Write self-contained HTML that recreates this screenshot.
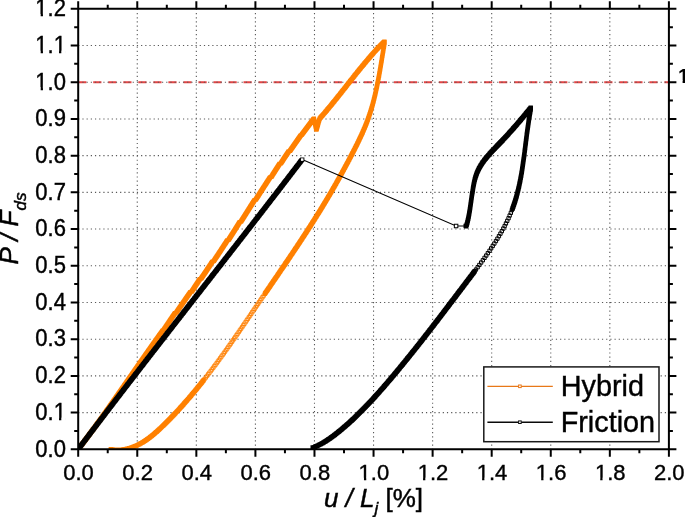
<!DOCTYPE html>
<html><head><meta charset="utf-8"><title>chart</title><style>html,body{margin:0;padding:0;background:#fff}body{width:685px;height:517px;overflow:hidden}</style></head><body>
<svg width="685" height="517" viewBox="0 0 685 517" style="display:block">
<rect width="685" height="517" fill="#fff"/>
<path d="M78.2 82.22H668.9" stroke="#E24444" stroke-width="2.1" stroke-dasharray="8.2 6.83" fill="none"/>
<path d="M137.27 8.8V449.3M196.34 8.8V449.3M255.41 8.8V449.3M314.48 8.8V449.3M373.55 8.8V449.3M432.62 8.8V449.3M491.69 8.8V449.3M550.76 8.8V449.3M609.83 8.8V449.3M78.2 412.59H668.9M78.2 375.88H668.9M78.2 339.18H668.9M78.2 302.47H668.9M78.2 265.76H668.9M78.2 229.05H668.9M78.2 192.34H668.9M78.2 155.63H668.9M78.2 118.93H668.9M78.2 82.22H668.9M78.2 45.51H668.9" fill="none" stroke="#585858" stroke-width="1.1" stroke-dasharray="1.2 2.99"/>
<clipPath id="pc"><rect x="78.2" y="8.8" width="590.6999999999999" height="440.8"/></clipPath><g clip-path="url(#pc)">
<path d="M76.1 447.2h4.2v4.2h-4.2zM76.4 446.8h4.2v4.2h-4.2zM76.7 446.4h4.2v4.2h-4.2zM77.0 446.0h4.2v4.2h-4.2zM77.3 445.6h4.2v4.2h-4.2zM77.6 445.2h4.2v4.2h-4.2zM77.9 444.8h4.2v4.2h-4.2zM78.2 444.4h4.2v4.2h-4.2zM78.5 444.0h4.2v4.2h-4.2zM78.8 443.6h4.2v4.2h-4.2zM79.1 443.2h4.2v4.2h-4.2zM79.4 442.8h4.2v4.2h-4.2zM79.7 442.4h4.2v4.2h-4.2zM80.0 442.0h4.2v4.2h-4.2zM80.3 441.6h4.2v4.2h-4.2zM80.7 441.2h4.2v4.2h-4.2zM81.0 440.8h4.2v4.2h-4.2zM81.3 440.4h4.2v4.2h-4.2zM81.6 440.0h4.2v4.2h-4.2zM81.9 439.6h4.2v4.2h-4.2zM82.2 439.2h4.2v4.2h-4.2zM82.5 438.8h4.2v4.2h-4.2zM82.8 438.4h4.2v4.2h-4.2zM83.1 438.0h4.2v4.2h-4.2zM83.4 437.6h4.2v4.2h-4.2zM83.7 437.2h4.2v4.2h-4.2zM84.0 436.8h4.2v4.2h-4.2zM84.3 436.4h4.2v4.2h-4.2zM84.6 436.0h4.2v4.2h-4.2zM84.9 435.6h4.2v4.2h-4.2zM85.2 435.2h4.2v4.2h-4.2zM85.5 434.8h4.2v4.2h-4.2zM85.8 434.4h4.2v4.2h-4.2zM86.1 434.0h4.2v4.2h-4.2zM86.4 433.6h4.2v4.2h-4.2zM86.7 433.2h4.2v4.2h-4.2zM86.9 432.8h4.2v4.2h-4.2zM87.2 432.4h4.2v4.2h-4.2zM87.5 432.0h4.2v4.2h-4.2zM87.8 431.6h4.2v4.2h-4.2zM88.1 431.2h4.2v4.2h-4.2zM88.4 430.8h4.2v4.2h-4.2zM88.7 430.4h4.2v4.2h-4.2zM89.0 430.0h4.2v4.2h-4.2zM89.3 429.6h4.2v4.2h-4.2zM89.6 429.2h4.2v4.2h-4.2zM89.9 428.8h4.2v4.2h-4.2zM90.2 428.4h4.2v4.2h-4.2zM90.5 428.0h4.2v4.2h-4.2zM90.8 427.6h4.2v4.2h-4.2zM91.1 427.2h4.2v4.2h-4.2zM91.4 426.8h4.2v4.2h-4.2zM91.7 426.4h4.2v4.2h-4.2zM92.0 426.0h4.2v4.2h-4.2zM92.3 425.6h4.2v4.2h-4.2zM92.6 425.2h4.2v4.2h-4.2zM92.9 424.8h4.2v4.2h-4.2zM93.2 424.4h4.2v4.2h-4.2zM93.5 424.0h4.2v4.2h-4.2zM93.8 423.6h4.2v4.2h-4.2zM94.0 423.2h4.2v4.2h-4.2zM94.3 422.7h4.2v4.2h-4.2zM94.6 422.3h4.2v4.2h-4.2zM94.9 421.9h4.2v4.2h-4.2zM95.2 421.5h4.2v4.2h-4.2zM95.5 421.1h4.2v4.2h-4.2zM95.8 420.7h4.2v4.2h-4.2zM96.1 420.3h4.2v4.2h-4.2zM96.4 419.9h4.2v4.2h-4.2zM96.7 419.5h4.2v4.2h-4.2zM97.0 419.1h4.2v4.2h-4.2zM97.3 418.7h4.2v4.2h-4.2zM97.6 418.3h4.2v4.2h-4.2zM97.9 417.9h4.2v4.2h-4.2zM98.2 417.5h4.2v4.2h-4.2zM98.4 417.1h4.2v4.2h-4.2zM98.7 416.7h4.2v4.2h-4.2zM99.0 416.3h4.2v4.2h-4.2zM99.3 415.9h4.2v4.2h-4.2zM99.6 415.4h4.2v4.2h-4.2zM99.9 415.0h4.2v4.2h-4.2zM100.2 414.6h4.2v4.2h-4.2zM100.5 414.2h4.2v4.2h-4.2zM100.8 413.8h4.2v4.2h-4.2zM101.1 413.4h4.2v4.2h-4.2zM101.4 413.0h4.2v4.2h-4.2zM101.6 412.6h4.2v4.2h-4.2zM101.9 412.2h4.2v4.2h-4.2zM102.2 411.8h4.2v4.2h-4.2zM102.5 411.4h4.2v4.2h-4.2zM102.8 411.0h4.2v4.2h-4.2zM103.1 410.6h4.2v4.2h-4.2zM103.4 410.2h4.2v4.2h-4.2zM103.7 409.7h4.2v4.2h-4.2zM104.0 409.3h4.2v4.2h-4.2zM104.3 408.9h4.2v4.2h-4.2zM104.5 408.5h4.2v4.2h-4.2zM104.8 408.1h4.2v4.2h-4.2zM105.1 407.7h4.2v4.2h-4.2zM105.4 407.3h4.2v4.2h-4.2zM105.7 406.9h4.2v4.2h-4.2zM106.0 406.5h4.2v4.2h-4.2zM106.3 406.1h4.2v4.2h-4.2zM106.6 405.7h4.2v4.2h-4.2zM106.9 405.3h4.2v4.2h-4.2zM107.1 404.9h4.2v4.2h-4.2zM107.4 404.4h4.2v4.2h-4.2zM107.7 404.0h4.2v4.2h-4.2zM108.0 403.6h4.2v4.2h-4.2zM108.3 403.2h4.2v4.2h-4.2zM108.6 402.8h4.2v4.2h-4.2zM108.9 402.4h4.2v4.2h-4.2zM109.2 402.0h4.2v4.2h-4.2zM109.4 401.6h4.2v4.2h-4.2zM109.7 401.2h4.2v4.2h-4.2zM110.0 400.8h4.2v4.2h-4.2zM110.3 400.4h4.2v4.2h-4.2zM110.6 399.9h4.2v4.2h-4.2zM110.9 399.5h4.2v4.2h-4.2zM111.2 399.1h4.2v4.2h-4.2zM111.5 398.7h4.2v4.2h-4.2zM111.7 398.3h4.2v4.2h-4.2zM112.0 397.9h4.2v4.2h-4.2zM112.3 397.5h4.2v4.2h-4.2zM112.6 397.1h4.2v4.2h-4.2zM112.9 396.7h4.2v4.2h-4.2zM113.2 396.3h4.2v4.2h-4.2zM113.5 395.8h4.2v4.2h-4.2zM113.8 395.4h4.2v4.2h-4.2zM114.0 395.0h4.2v4.2h-4.2zM114.3 394.6h4.2v4.2h-4.2zM114.6 394.2h4.2v4.2h-4.2zM114.9 393.8h4.2v4.2h-4.2zM115.2 393.4h4.2v4.2h-4.2zM115.5 393.0h4.2v4.2h-4.2zM115.8 392.6h4.2v4.2h-4.2zM116.0 392.2h4.2v4.2h-4.2zM116.3 391.7h4.2v4.2h-4.2zM116.6 391.3h4.2v4.2h-4.2zM116.9 390.9h4.2v4.2h-4.2zM117.2 390.5h4.2v4.2h-4.2zM117.5 390.1h4.2v4.2h-4.2zM117.8 389.7h4.2v4.2h-4.2zM118.0 389.3h4.2v4.2h-4.2zM118.3 388.9h4.2v4.2h-4.2zM118.6 388.5h4.2v4.2h-4.2zM118.9 388.1h4.2v4.2h-4.2zM119.2 387.6h4.2v4.2h-4.2zM119.5 387.2h4.2v4.2h-4.2zM119.8 386.8h4.2v4.2h-4.2zM120.0 386.4h4.2v4.2h-4.2zM120.3 386.0h4.2v4.2h-4.2zM120.6 385.6h4.2v4.2h-4.2zM120.9 385.2h4.2v4.2h-4.2zM121.2 384.8h4.2v4.2h-4.2zM121.5 384.4h4.2v4.2h-4.2zM121.8 383.9h4.2v4.2h-4.2zM122.0 383.5h4.2v4.2h-4.2zM122.3 383.1h4.2v4.2h-4.2zM122.6 382.7h4.2v4.2h-4.2zM122.9 382.3h4.2v4.2h-4.2zM123.2 381.9h4.2v4.2h-4.2zM123.5 381.5h4.2v4.2h-4.2zM123.8 381.1h4.2v4.2h-4.2zM124.0 380.7h4.2v4.2h-4.2zM124.3 380.3h4.2v4.2h-4.2zM124.6 379.8h4.2v4.2h-4.2zM124.9 379.4h4.2v4.2h-4.2zM125.2 379.0h4.2v4.2h-4.2zM125.5 378.6h4.2v4.2h-4.2zM125.8 378.2h4.2v4.2h-4.2zM126.0 377.8h4.2v4.2h-4.2zM126.3 377.4h4.2v4.2h-4.2zM126.6 377.0h4.2v4.2h-4.2zM126.9 376.6h4.2v4.2h-4.2zM127.2 376.1h4.2v4.2h-4.2zM127.5 375.7h4.2v4.2h-4.2zM127.7 375.3h4.2v4.2h-4.2zM128.0 374.9h4.2v4.2h-4.2zM128.3 374.5h4.2v4.2h-4.2zM128.6 374.1h4.2v4.2h-4.2zM128.9 373.7h4.2v4.2h-4.2zM129.2 373.3h4.2v4.2h-4.2zM129.5 372.9h4.2v4.2h-4.2zM129.7 372.4h4.2v4.2h-4.2zM130.0 372.0h4.2v4.2h-4.2zM130.3 371.6h4.2v4.2h-4.2zM130.6 371.2h4.2v4.2h-4.2zM130.9 370.8h4.2v4.2h-4.2zM131.2 370.4h4.2v4.2h-4.2zM131.5 370.0h4.2v4.2h-4.2zM131.7 369.6h4.2v4.2h-4.2zM132.0 369.2h4.2v4.2h-4.2zM132.3 368.7h4.2v4.2h-4.2zM132.6 368.3h4.2v4.2h-4.2zM132.9 367.9h4.2v4.2h-4.2zM133.2 367.5h4.2v4.2h-4.2zM133.4 367.1h4.2v4.2h-4.2zM133.7 366.7h4.2v4.2h-4.2zM134.0 366.3h4.2v4.2h-4.2zM134.3 365.9h4.2v4.2h-4.2zM134.6 365.5h4.2v4.2h-4.2zM134.9 365.0h4.2v4.2h-4.2zM135.2 364.6h4.2v4.2h-4.2zM135.4 364.2h4.2v4.2h-4.2zM135.7 363.8h4.2v4.2h-4.2zM136.0 363.4h4.2v4.2h-4.2zM136.3 363.0h4.2v4.2h-4.2zM136.6 362.6h4.2v4.2h-4.2zM136.9 362.2h4.2v4.2h-4.2zM137.2 361.8h4.2v4.2h-4.2zM137.4 361.3h4.2v4.2h-4.2zM137.7 360.9h4.2v4.2h-4.2zM138.0 360.5h4.2v4.2h-4.2zM138.3 360.1h4.2v4.2h-4.2zM138.6 359.7h4.2v4.2h-4.2zM138.9 359.3h4.2v4.2h-4.2zM139.2 358.9h4.2v4.2h-4.2zM139.4 358.5h4.2v4.2h-4.2zM139.7 358.1h4.2v4.2h-4.2zM140.0 357.7h4.2v4.2h-4.2zM140.3 357.2h4.2v4.2h-4.2zM140.6 356.8h4.2v4.2h-4.2zM140.9 356.4h4.2v4.2h-4.2zM141.2 356.0h4.2v4.2h-4.2zM141.4 355.6h4.2v4.2h-4.2zM141.7 355.2h4.2v4.2h-4.2zM142.0 354.8h4.2v4.2h-4.2zM142.3 354.4h4.2v4.2h-4.2zM142.6 354.0h4.2v4.2h-4.2zM142.9 353.6h4.2v4.2h-4.2zM143.2 353.1h4.2v4.2h-4.2zM143.4 352.7h4.2v4.2h-4.2zM143.7 352.3h4.2v4.2h-4.2zM144.0 351.9h4.2v4.2h-4.2zM144.3 351.5h4.2v4.2h-4.2zM144.6 351.1h4.2v4.2h-4.2zM144.9 350.7h4.2v4.2h-4.2zM145.2 350.3h4.2v4.2h-4.2zM145.5 349.9h4.2v4.2h-4.2zM145.7 349.5h4.2v4.2h-4.2zM146.0 349.0h4.2v4.2h-4.2zM146.3 348.6h4.2v4.2h-4.2zM146.6 348.2h4.2v4.2h-4.2zM146.9 347.8h4.2v4.2h-4.2zM147.2 347.4h4.2v4.2h-4.2zM147.5 347.0h4.2v4.2h-4.2zM147.8 346.6h4.2v4.2h-4.2zM148.0 346.2h4.2v4.2h-4.2zM148.3 345.8h4.2v4.2h-4.2zM148.6 345.4h4.2v4.2h-4.2zM148.9 345.0h4.2v4.2h-4.2zM149.2 344.5h4.2v4.2h-4.2zM149.5 344.1h4.2v4.2h-4.2zM149.8 343.7h4.2v4.2h-4.2zM150.1 343.3h4.2v4.2h-4.2zM150.4 342.9h4.2v4.2h-4.2zM150.6 342.5h4.2v4.2h-4.2zM150.9 342.1h4.2v4.2h-4.2zM151.2 341.7h4.2v4.2h-4.2zM151.5 341.3h4.2v4.2h-4.2zM151.8 340.9h4.2v4.2h-4.2zM152.1 340.5h4.2v4.2h-4.2zM152.4 340.1h4.2v4.2h-4.2zM152.7 339.7h4.2v4.2h-4.2zM153.0 339.2h4.2v4.2h-4.2zM153.2 338.8h4.2v4.2h-4.2zM153.5 338.4h4.2v4.2h-4.2zM153.8 338.0h4.2v4.2h-4.2zM154.1 337.6h4.2v4.2h-4.2zM154.4 337.2h4.2v4.2h-4.2zM154.7 336.8h4.2v4.2h-4.2zM155.0 336.4h4.2v4.2h-4.2zM155.3 336.0h4.2v4.2h-4.2zM155.6 335.6h4.2v4.2h-4.2zM155.9 335.2h4.2v4.2h-4.2zM156.1 334.8h4.2v4.2h-4.2zM156.4 334.4h4.2v4.2h-4.2zM156.7 333.9h4.2v4.2h-4.2zM157.0 333.5h4.2v4.2h-4.2zM157.3 333.1h4.2v4.2h-4.2zM157.6 332.7h4.2v4.2h-4.2zM157.9 332.3h4.2v4.2h-4.2zM158.2 331.9h4.2v4.2h-4.2zM158.5 331.5h4.2v4.2h-4.2zM158.8 331.1h4.2v4.2h-4.2zM159.1 330.7h4.2v4.2h-4.2zM159.4 330.3h4.2v4.2h-4.2zM159.6 329.9h4.2v4.2h-4.2zM159.9 329.5h4.2v4.2h-4.2zM160.2 329.1h4.2v4.2h-4.2zM160.5 328.7h4.2v4.2h-4.2zM160.8 328.3h4.2v4.2h-4.2zM161.6 327.9h4.2v4.2h-4.2zM161.8 327.5h4.2v4.2h-4.2zM162.1 327.0h4.2v4.2h-4.2zM162.4 326.6h4.2v4.2h-4.2zM162.6 326.2h4.2v4.2h-4.2zM162.9 325.8h4.2v4.2h-4.2zM163.2 325.4h4.2v4.2h-4.2zM163.5 325.0h4.2v4.2h-4.2zM163.7 324.6h4.2v4.2h-4.2zM164.0 324.2h4.2v4.2h-4.2zM164.3 323.8h4.2v4.2h-4.2zM164.5 323.4h4.2v4.2h-4.2zM164.8 323.0h4.2v4.2h-4.2zM165.1 322.6h4.2v4.2h-4.2zM165.4 322.2h4.2v4.2h-4.2zM165.6 321.8h4.2v4.2h-4.2zM165.9 321.4h4.2v4.2h-4.2zM166.2 321.0h4.2v4.2h-4.2zM166.4 320.6h4.2v4.2h-4.2zM166.7 320.2h4.2v4.2h-4.2zM167.0 319.8h4.2v4.2h-4.2zM167.3 319.4h4.2v4.2h-4.2zM167.5 318.9h4.2v4.2h-4.2zM167.8 318.5h4.2v4.2h-4.2zM168.1 318.1h4.2v4.2h-4.2zM168.4 317.7h4.2v4.2h-4.2zM168.6 317.3h4.2v4.2h-4.2zM168.9 316.9h4.2v4.2h-4.2zM169.2 316.5h4.2v4.2h-4.2zM169.5 316.1h4.2v4.2h-4.2zM169.7 315.7h4.2v4.2h-4.2zM170.0 315.3h4.2v4.2h-4.2zM170.3 314.9h4.2v4.2h-4.2zM170.5 314.5h4.2v4.2h-4.2zM170.8 314.1h4.2v4.2h-4.2zM171.1 313.7h4.2v4.2h-4.2zM171.4 313.3h4.2v4.2h-4.2zM171.6 312.9h4.2v4.2h-4.2zM171.9 312.5h4.2v4.2h-4.2zM172.2 312.1h4.2v4.2h-4.2zM172.5 311.7h4.2v4.2h-4.2zM172.7 311.3h4.2v4.2h-4.2zM173.0 310.9h4.2v4.2h-4.2zM174.2 310.5h4.2v4.2h-4.2zM174.5 310.1h4.2v4.2h-4.2zM174.7 309.7h4.2v4.2h-4.2zM175.0 309.3h4.2v4.2h-4.2zM175.3 308.8h4.2v4.2h-4.2zM175.6 308.4h4.2v4.2h-4.2zM175.9 308.0h4.2v4.2h-4.2zM176.1 307.6h4.2v4.2h-4.2zM176.4 307.2h4.2v4.2h-4.2zM176.7 306.8h4.2v4.2h-4.2zM177.0 306.4h4.2v4.2h-4.2zM177.2 306.0h4.2v4.2h-4.2zM177.5 305.6h4.2v4.2h-4.2zM177.8 305.2h4.2v4.2h-4.2zM178.1 304.8h4.2v4.2h-4.2zM178.4 304.4h4.2v4.2h-4.2zM178.6 304.0h4.2v4.2h-4.2zM178.9 303.6h4.2v4.2h-4.2zM179.2 303.2h4.2v4.2h-4.2zM179.5 302.8h4.2v4.2h-4.2zM179.8 302.4h4.2v4.2h-4.2zM180.0 302.0h4.2v4.2h-4.2zM180.3 301.6h4.2v4.2h-4.2zM180.6 301.2h4.2v4.2h-4.2zM180.9 300.8h4.2v4.2h-4.2zM181.1 300.4h4.2v4.2h-4.2zM181.4 300.0h4.2v4.2h-4.2zM181.7 299.6h4.2v4.2h-4.2zM182.0 299.2h4.2v4.2h-4.2zM182.3 298.8h4.2v4.2h-4.2zM182.5 298.4h4.2v4.2h-4.2zM182.8 298.0h4.2v4.2h-4.2zM183.1 297.6h4.2v4.2h-4.2zM183.4 297.1h4.2v4.2h-4.2zM183.7 296.7h4.2v4.2h-4.2zM183.9 296.3h4.2v4.2h-4.2zM184.2 295.9h4.2v4.2h-4.2zM184.5 295.5h4.2v4.2h-4.2zM184.8 295.1h4.2v4.2h-4.2zM185.0 294.7h4.2v4.2h-4.2zM185.3 294.3h4.2v4.2h-4.2zM185.6 293.9h4.2v4.2h-4.2zM185.9 293.5h4.2v4.2h-4.2zM186.2 293.1h4.2v4.2h-4.2zM186.4 292.7h4.2v4.2h-4.2zM186.7 292.3h4.2v4.2h-4.2zM187.0 291.9h4.2v4.2h-4.2zM187.3 291.5h4.2v4.2h-4.2zM187.6 291.1h4.2v4.2h-4.2zM187.8 290.7h4.2v4.2h-4.2zM188.1 290.3h4.2v4.2h-4.2zM188.4 289.9h4.2v4.2h-4.2zM189.6 289.5h4.2v4.2h-4.2zM189.8 289.1h4.2v4.2h-4.2zM190.1 288.7h4.2v4.2h-4.2zM190.4 288.3h4.2v4.2h-4.2zM190.6 287.9h4.2v4.2h-4.2zM190.9 287.5h4.2v4.2h-4.2zM191.2 287.1h4.2v4.2h-4.2zM191.4 286.7h4.2v4.2h-4.2zM191.7 286.3h4.2v4.2h-4.2zM192.0 285.8h4.2v4.2h-4.2zM192.2 285.4h4.2v4.2h-4.2zM192.5 285.0h4.2v4.2h-4.2zM192.8 284.6h4.2v4.2h-4.2zM193.0 284.2h4.2v4.2h-4.2zM193.3 283.8h4.2v4.2h-4.2zM193.6 283.4h4.2v4.2h-4.2zM193.8 283.0h4.2v4.2h-4.2zM194.1 282.6h4.2v4.2h-4.2zM194.4 282.2h4.2v4.2h-4.2zM194.6 281.8h4.2v4.2h-4.2zM194.9 281.4h4.2v4.2h-4.2zM195.2 281.0h4.2v4.2h-4.2zM195.4 280.6h4.2v4.2h-4.2zM195.7 280.2h4.2v4.2h-4.2zM196.0 279.8h4.2v4.2h-4.2zM196.2 279.4h4.2v4.2h-4.2zM196.5 279.0h4.2v4.2h-4.2zM196.7 278.6h4.2v4.2h-4.2zM197.0 278.2h4.2v4.2h-4.2zM197.3 277.8h4.2v4.2h-4.2zM197.5 277.4h4.2v4.2h-4.2zM197.8 277.0h4.2v4.2h-4.2zM199.0 276.6h4.2v4.2h-4.2zM199.3 276.1h4.2v4.2h-4.2zM199.5 275.7h4.2v4.2h-4.2zM199.8 275.3h4.2v4.2h-4.2zM200.1 274.9h4.2v4.2h-4.2zM200.3 274.5h4.2v4.2h-4.2zM200.6 274.1h4.2v4.2h-4.2zM200.9 273.7h4.2v4.2h-4.2zM201.2 273.3h4.2v4.2h-4.2zM201.4 272.9h4.2v4.2h-4.2zM201.7 272.5h4.2v4.2h-4.2zM202.0 272.1h4.2v4.2h-4.2zM202.3 271.7h4.2v4.2h-4.2zM202.5 271.3h4.2v4.2h-4.2zM202.8 270.9h4.2v4.2h-4.2zM203.1 270.5h4.2v4.2h-4.2zM203.3 270.1h4.2v4.2h-4.2zM203.6 269.7h4.2v4.2h-4.2zM203.9 269.3h4.2v4.2h-4.2zM204.2 268.9h4.2v4.2h-4.2zM204.4 268.4h4.2v4.2h-4.2zM204.7 268.0h4.2v4.2h-4.2zM205.0 267.6h4.2v4.2h-4.2zM205.2 267.2h4.2v4.2h-4.2zM205.5 266.8h4.2v4.2h-4.2zM205.8 266.4h4.2v4.2h-4.2zM206.1 266.0h4.2v4.2h-4.2zM206.3 265.6h4.2v4.2h-4.2zM206.6 265.2h4.2v4.2h-4.2zM206.9 264.8h4.2v4.2h-4.2zM207.1 264.4h4.2v4.2h-4.2zM207.4 264.0h4.2v4.2h-4.2zM207.7 263.6h4.2v4.2h-4.2zM207.9 263.2h4.2v4.2h-4.2zM208.2 262.8h4.2v4.2h-4.2zM208.5 262.4h4.2v4.2h-4.2zM208.8 261.9h4.2v4.2h-4.2zM209.0 261.5h4.2v4.2h-4.2zM209.3 261.1h4.2v4.2h-4.2zM209.6 260.7h4.2v4.2h-4.2zM209.8 260.3h4.2v4.2h-4.2zM210.1 259.9h4.2v4.2h-4.2zM210.4 259.5h4.2v4.2h-4.2zM211.5 259.1h4.2v4.2h-4.2zM211.8 258.7h4.2v4.2h-4.2zM212.1 258.3h4.2v4.2h-4.2zM212.4 257.9h4.2v4.2h-4.2zM212.6 257.5h4.2v4.2h-4.2zM212.9 257.1h4.2v4.2h-4.2zM213.2 256.6h4.2v4.2h-4.2zM213.4 256.2h4.2v4.2h-4.2zM213.7 255.8h4.2v4.2h-4.2zM214.0 255.4h4.2v4.2h-4.2zM214.3 255.0h4.2v4.2h-4.2zM214.5 254.6h4.2v4.2h-4.2zM214.8 254.2h4.2v4.2h-4.2zM215.1 253.8h4.2v4.2h-4.2zM215.4 253.4h4.2v4.2h-4.2zM215.6 253.0h4.2v4.2h-4.2zM215.9 252.6h4.2v4.2h-4.2zM216.2 252.2h4.2v4.2h-4.2zM216.4 251.7h4.2v4.2h-4.2zM216.7 251.3h4.2v4.2h-4.2zM217.0 250.9h4.2v4.2h-4.2zM217.2 250.5h4.2v4.2h-4.2zM217.5 250.1h4.2v4.2h-4.2zM217.8 249.7h4.2v4.2h-4.2zM218.1 249.3h4.2v4.2h-4.2zM218.3 248.9h4.2v4.2h-4.2zM218.6 248.5h4.2v4.2h-4.2zM218.9 248.1h4.2v4.2h-4.2zM219.1 247.6h4.2v4.2h-4.2zM219.4 247.2h4.2v4.2h-4.2zM219.7 246.8h4.2v4.2h-4.2zM219.9 246.4h4.2v4.2h-4.2zM220.2 246.0h4.2v4.2h-4.2zM220.5 245.6h4.2v4.2h-4.2zM220.7 245.2h4.2v4.2h-4.2zM221.0 244.8h4.2v4.2h-4.2zM221.3 244.4h4.2v4.2h-4.2zM221.5 244.0h4.2v4.2h-4.2zM221.8 243.5h4.2v4.2h-4.2zM222.1 243.1h4.2v4.2h-4.2zM222.3 242.7h4.2v4.2h-4.2zM222.6 242.3h4.2v4.2h-4.2zM222.9 241.9h4.2v4.2h-4.2zM223.2 241.5h4.2v4.2h-4.2zM223.4 241.1h4.2v4.2h-4.2zM223.7 240.7h4.2v4.2h-4.2zM224.0 240.3h4.2v4.2h-4.2zM224.2 239.8h4.2v4.2h-4.2zM224.5 239.4h4.2v4.2h-4.2zM224.7 239.0h4.2v4.2h-4.2zM225.0 238.6h4.2v4.2h-4.2zM225.3 238.2h4.2v4.2h-4.2zM226.4 237.8h4.2v4.2h-4.2zM226.7 237.4h4.2v4.2h-4.2zM227.0 237.0h4.2v4.2h-4.2zM227.2 236.5h4.2v4.2h-4.2zM227.5 236.1h4.2v4.2h-4.2zM227.8 235.7h4.2v4.2h-4.2zM228.0 235.3h4.2v4.2h-4.2zM228.3 234.9h4.2v4.2h-4.2zM228.5 234.5h4.2v4.2h-4.2zM228.8 234.1h4.2v4.2h-4.2zM229.1 233.6h4.2v4.2h-4.2zM229.3 233.2h4.2v4.2h-4.2zM229.6 232.8h4.2v4.2h-4.2zM229.8 232.4h4.2v4.2h-4.2zM230.1 232.0h4.2v4.2h-4.2zM230.4 231.6h4.2v4.2h-4.2zM230.6 231.2h4.2v4.2h-4.2zM230.9 230.8h4.2v4.2h-4.2zM231.2 230.3h4.2v4.2h-4.2zM231.4 229.9h4.2v4.2h-4.2zM231.7 229.5h4.2v4.2h-4.2zM231.9 229.1h4.2v4.2h-4.2zM232.2 228.7h4.2v4.2h-4.2zM232.5 228.3h4.2v4.2h-4.2zM232.7 227.9h4.2v4.2h-4.2zM233.0 227.4h4.2v4.2h-4.2zM233.2 227.0h4.2v4.2h-4.2zM233.5 226.6h4.2v4.2h-4.2zM233.8 226.2h4.2v4.2h-4.2zM234.0 225.8h4.2v4.2h-4.2zM234.3 225.4h4.2v4.2h-4.2zM234.5 225.0h4.2v4.2h-4.2zM234.8 224.5h4.2v4.2h-4.2zM235.1 224.1h4.2v4.2h-4.2zM235.3 223.7h4.2v4.2h-4.2zM235.6 223.3h4.2v4.2h-4.2zM235.8 222.9h4.2v4.2h-4.2zM236.1 222.5h4.2v4.2h-4.2zM236.3 222.1h4.2v4.2h-4.2zM236.6 221.6h4.2v4.2h-4.2zM236.9 221.2h4.2v4.2h-4.2zM237.1 220.8h4.2v4.2h-4.2zM237.4 220.4h4.2v4.2h-4.2zM237.6 220.0h4.2v4.2h-4.2zM238.8 219.6h4.2v4.2h-4.2zM239.1 219.2h4.2v4.2h-4.2zM239.3 218.7h4.2v4.2h-4.2zM239.6 218.3h4.2v4.2h-4.2zM239.9 217.9h4.2v4.2h-4.2zM240.1 217.5h4.2v4.2h-4.2zM240.4 217.1h4.2v4.2h-4.2zM240.6 216.7h4.2v4.2h-4.2zM240.9 216.3h4.2v4.2h-4.2zM241.2 215.8h4.2v4.2h-4.2zM241.4 215.4h4.2v4.2h-4.2zM241.7 215.0h4.2v4.2h-4.2zM242.0 214.6h4.2v4.2h-4.2zM242.2 214.2h4.2v4.2h-4.2zM242.5 213.8h4.2v4.2h-4.2zM242.7 213.4h4.2v4.2h-4.2zM243.0 212.9h4.2v4.2h-4.2zM243.3 212.5h4.2v4.2h-4.2zM243.5 212.1h4.2v4.2h-4.2zM243.8 211.7h4.2v4.2h-4.2zM244.1 211.3h4.2v4.2h-4.2zM244.3 210.9h4.2v4.2h-4.2zM244.6 210.4h4.2v4.2h-4.2zM244.8 210.0h4.2v4.2h-4.2zM245.1 209.6h4.2v4.2h-4.2zM245.4 209.2h4.2v4.2h-4.2zM245.6 208.8h4.2v4.2h-4.2zM245.9 208.4h4.2v4.2h-4.2zM246.2 208.0h4.2v4.2h-4.2zM246.4 207.5h4.2v4.2h-4.2zM246.7 207.1h4.2v4.2h-4.2zM246.9 206.7h4.2v4.2h-4.2zM247.2 206.3h4.2v4.2h-4.2zM247.5 205.9h4.2v4.2h-4.2zM247.7 205.5h4.2v4.2h-4.2zM248.0 205.1h4.2v4.2h-4.2zM248.2 204.6h4.2v4.2h-4.2zM248.5 204.2h4.2v4.2h-4.2zM248.8 203.8h4.2v4.2h-4.2zM249.0 203.4h4.2v4.2h-4.2zM249.3 203.0h4.2v4.2h-4.2zM249.6 202.6h4.2v4.2h-4.2zM249.8 202.2h4.2v4.2h-4.2zM250.1 201.7h4.2v4.2h-4.2zM250.3 201.3h4.2v4.2h-4.2zM250.6 200.9h4.2v4.2h-4.2zM250.9 200.5h4.2v4.2h-4.2zM251.1 200.1h4.2v4.2h-4.2zM251.4 199.7h4.2v4.2h-4.2zM251.7 199.2h4.2v4.2h-4.2zM251.9 198.8h4.2v4.2h-4.2zM252.2 198.4h4.2v4.2h-4.2zM252.5 198.0h4.2v4.2h-4.2zM253.6 197.6h4.2v4.2h-4.2zM253.9 197.2h4.2v4.2h-4.2zM254.1 196.8h4.2v4.2h-4.2zM254.4 196.3h4.2v4.2h-4.2zM254.7 195.9h4.2v4.2h-4.2zM254.9 195.5h4.2v4.2h-4.2zM255.2 195.1h4.2v4.2h-4.2zM255.5 194.7h4.2v4.2h-4.2zM255.7 194.3h4.2v4.2h-4.2zM256.0 193.9h4.2v4.2h-4.2zM256.3 193.5h4.2v4.2h-4.2zM256.5 193.0h4.2v4.2h-4.2zM256.8 192.6h4.2v4.2h-4.2zM257.0 192.2h4.2v4.2h-4.2zM257.3 191.8h4.2v4.2h-4.2zM257.6 191.4h4.2v4.2h-4.2zM257.8 191.0h4.2v4.2h-4.2zM258.1 190.6h4.2v4.2h-4.2zM258.4 190.1h4.2v4.2h-4.2zM258.6 189.7h4.2v4.2h-4.2zM258.9 189.3h4.2v4.2h-4.2zM259.2 188.9h4.2v4.2h-4.2zM259.4 188.5h4.2v4.2h-4.2zM259.7 188.1h4.2v4.2h-4.2zM260.0 187.7h4.2v4.2h-4.2zM260.2 187.2h4.2v4.2h-4.2zM260.5 186.8h4.2v4.2h-4.2zM260.8 186.4h4.2v4.2h-4.2zM261.0 186.0h4.2v4.2h-4.2zM261.3 185.6h4.2v4.2h-4.2zM261.6 185.2h4.2v4.2h-4.2zM261.8 184.8h4.2v4.2h-4.2zM262.1 184.4h4.2v4.2h-4.2zM262.4 183.9h4.2v4.2h-4.2zM262.6 183.5h4.2v4.2h-4.2zM262.9 183.1h4.2v4.2h-4.2zM263.2 182.7h4.2v4.2h-4.2zM263.4 182.3h4.2v4.2h-4.2zM263.7 181.9h4.2v4.2h-4.2zM264.0 181.5h4.2v4.2h-4.2zM264.2 181.1h4.2v4.2h-4.2zM264.5 180.6h4.2v4.2h-4.2zM264.8 180.2h4.2v4.2h-4.2zM265.0 179.8h4.2v4.2h-4.2zM265.3 179.4h4.2v4.2h-4.2zM265.6 179.0h4.2v4.2h-4.2zM265.8 178.6h4.2v4.2h-4.2zM266.1 178.2h4.2v4.2h-4.2zM266.4 177.8h4.2v4.2h-4.2zM266.6 177.4h4.2v4.2h-4.2zM266.9 176.9h4.2v4.2h-4.2zM267.2 176.5h4.2v4.2h-4.2zM267.4 176.1h4.2v4.2h-4.2zM267.7 175.7h4.2v4.2h-4.2zM268.0 175.3h4.2v4.2h-4.2zM269.1 174.9h4.2v4.2h-4.2zM269.4 174.5h4.2v4.2h-4.2zM269.7 174.1h4.2v4.2h-4.2zM269.9 173.7h4.2v4.2h-4.2zM270.2 173.2h4.2v4.2h-4.2zM270.4 172.8h4.2v4.2h-4.2zM270.7 172.4h4.2v4.2h-4.2zM270.9 172.0h4.2v4.2h-4.2zM271.2 171.6h4.2v4.2h-4.2zM271.5 171.2h4.2v4.2h-4.2zM271.7 170.8h4.2v4.2h-4.2zM272.0 170.4h4.2v4.2h-4.2zM272.2 170.0h4.2v4.2h-4.2zM272.5 169.6h4.2v4.2h-4.2zM272.8 169.2h4.2v4.2h-4.2zM273.0 168.7h4.2v4.2h-4.2zM273.3 168.3h4.2v4.2h-4.2zM273.6 167.9h4.2v4.2h-4.2zM273.8 167.5h4.2v4.2h-4.2zM274.1 167.1h4.2v4.2h-4.2zM274.3 166.7h4.2v4.2h-4.2zM274.6 166.3h4.2v4.2h-4.2zM274.9 165.9h4.2v4.2h-4.2zM275.1 165.5h4.2v4.2h-4.2zM275.4 165.1h4.2v4.2h-4.2zM275.6 164.7h4.2v4.2h-4.2zM275.9 164.3h4.2v4.2h-4.2zM276.2 163.8h4.2v4.2h-4.2zM276.4 163.4h4.2v4.2h-4.2zM276.7 163.0h4.2v4.2h-4.2zM277.0 162.6h4.2v4.2h-4.2zM277.2 162.2h4.2v4.2h-4.2zM277.5 161.8h4.2v4.2h-4.2zM278.7 161.4h4.2v4.2h-4.2zM278.9 161.0h4.2v4.2h-4.2zM279.2 160.6h4.2v4.2h-4.2zM279.4 160.2h4.2v4.2h-4.2zM279.7 159.8h4.2v4.2h-4.2zM280.0 159.4h4.2v4.2h-4.2zM280.2 159.0h4.2v4.2h-4.2zM280.5 158.6h4.2v4.2h-4.2zM280.8 158.2h4.2v4.2h-4.2zM281.0 157.8h4.2v4.2h-4.2zM281.3 157.3h4.2v4.2h-4.2zM281.5 156.9h4.2v4.2h-4.2zM281.8 156.5h4.2v4.2h-4.2zM282.1 156.1h4.2v4.2h-4.2zM282.3 155.7h4.2v4.2h-4.2zM282.6 155.3h4.2v4.2h-4.2zM282.9 154.9h4.2v4.2h-4.2zM283.1 154.5h4.2v4.2h-4.2zM283.4 154.1h4.2v4.2h-4.2zM283.7 153.7h4.2v4.2h-4.2zM283.9 153.3h4.2v4.2h-4.2zM284.2 152.9h4.2v4.2h-4.2zM284.5 152.5h4.2v4.2h-4.2zM284.7 152.1h4.2v4.2h-4.2zM285.0 151.7h4.2v4.2h-4.2zM285.3 151.3h4.2v4.2h-4.2zM285.5 150.9h4.2v4.2h-4.2zM285.8 150.5h4.2v4.2h-4.2zM286.1 150.1h4.2v4.2h-4.2zM286.3 149.7h4.2v4.2h-4.2zM286.6 149.3h4.2v4.2h-4.2zM287.8 148.9h4.2v4.2h-4.2zM288.1 148.5h4.2v4.2h-4.2zM288.3 148.1h4.2v4.2h-4.2zM288.6 147.7h4.2v4.2h-4.2zM288.9 147.3h4.2v4.2h-4.2zM289.2 146.9h4.2v4.2h-4.2zM289.4 146.5h4.2v4.2h-4.2zM289.7 146.1h4.2v4.2h-4.2zM290.0 145.7h4.2v4.2h-4.2zM290.3 145.3h4.2v4.2h-4.2zM290.6 144.9h4.2v4.2h-4.2zM290.8 144.5h4.2v4.2h-4.2zM291.1 144.1h4.2v4.2h-4.2zM291.4 143.7h4.2v4.2h-4.2zM291.7 143.3h4.2v4.2h-4.2zM291.9 142.9h4.2v4.2h-4.2zM292.2 142.5h4.2v4.2h-4.2zM292.5 142.1h4.2v4.2h-4.2zM292.8 141.7h4.2v4.2h-4.2zM293.1 141.3h4.2v4.2h-4.2zM293.3 140.9h4.2v4.2h-4.2zM293.6 140.5h4.2v4.2h-4.2zM293.9 140.1h4.2v4.2h-4.2zM294.2 139.7h4.2v4.2h-4.2zM294.5 139.3h4.2v4.2h-4.2zM294.7 138.9h4.2v4.2h-4.2zM295.0 138.5h4.2v4.2h-4.2zM295.3 138.1h4.2v4.2h-4.2zM295.6 137.7h4.2v4.2h-4.2zM295.9 137.3h4.2v4.2h-4.2zM296.1 136.9h4.2v4.2h-4.2zM296.4 136.5h4.2v4.2h-4.2zM296.7 136.1h4.2v4.2h-4.2zM297.0 135.7h4.2v4.2h-4.2zM297.3 135.3h4.2v4.2h-4.2zM297.5 134.9h4.2v4.2h-4.2zM297.8 134.5h4.2v4.2h-4.2zM298.1 134.1h4.2v4.2h-4.2zM298.4 133.7h4.2v4.2h-4.2zM298.7 133.3h4.2v4.2h-4.2zM299.4 132.9h4.2v4.2h-4.2zM299.7 132.5h4.2v4.2h-4.2zM300.0 132.1h4.2v4.2h-4.2zM300.3 131.7h4.2v4.2h-4.2zM300.6 131.3h4.2v4.2h-4.2zM300.9 130.9h4.2v4.2h-4.2zM301.2 130.5h4.2v4.2h-4.2zM301.5 130.1h4.2v4.2h-4.2zM301.8 129.7h4.2v4.2h-4.2zM302.1 129.3h4.2v4.2h-4.2zM302.4 128.9h4.2v4.2h-4.2zM302.7 128.5h4.2v4.2h-4.2zM303.0 128.1h4.2v4.2h-4.2zM303.3 127.7h4.2v4.2h-4.2zM303.6 127.3h4.2v4.2h-4.2zM303.9 126.9h4.2v4.2h-4.2zM304.2 126.5h4.2v4.2h-4.2zM304.5 126.1h4.2v4.2h-4.2zM304.8 125.7h4.2v4.2h-4.2zM305.1 125.3h4.2v4.2h-4.2zM305.4 124.9h4.2v4.2h-4.2zM305.7 124.5h4.2v4.2h-4.2zM306.0 124.1h4.2v4.2h-4.2zM306.3 123.7h4.2v4.2h-4.2zM306.6 123.3h4.2v4.2h-4.2zM306.9 122.9h4.2v4.2h-4.2zM307.2 122.5h4.2v4.2h-4.2zM307.5 122.1h4.2v4.2h-4.2zM307.8 121.7h4.2v4.2h-4.2zM308.1 121.3h4.2v4.2h-4.2zM308.4 120.9h4.2v4.2h-4.2zM308.7 120.5h4.2v4.2h-4.2zM309.0 120.1h4.2v4.2h-4.2zM309.3 119.7h4.2v4.2h-4.2zM309.6 119.3h4.2v4.2h-4.2zM309.9 118.9h4.2v4.2h-4.2zM310.2 118.5h4.2v4.2h-4.2zM310.5 118.1h4.2v4.2h-4.2zM310.8 117.7h4.2v4.2h-4.2zM311.1 117.3h4.2v4.2h-4.2zM311.4 116.9h4.2v4.2h-4.2zM311.8 116.6h4.2v4.2h-4.2zM311.8 116.6h4.2v4.2h-4.2zM312.0 117.3h4.2v4.2h-4.2zM312.1 118.0h4.2v4.2h-4.2zM312.3 118.7h4.2v4.2h-4.2zM312.4 119.3h4.2v4.2h-4.2zM312.6 120.0h4.2v4.2h-4.2zM312.7 120.7h4.2v4.2h-4.2zM312.9 121.4h4.2v4.2h-4.2zM313.0 122.1h4.2v4.2h-4.2zM313.2 122.8h4.2v4.2h-4.2zM313.3 123.5h4.2v4.2h-4.2zM313.5 124.2h4.2v4.2h-4.2zM313.6 124.8h4.2v4.2h-4.2zM313.8 125.5h4.2v4.2h-4.2zM313.9 126.2h4.2v4.2h-4.2zM314.1 126.9h4.2v4.2h-4.2zM314.2 127.6h4.2v4.2h-4.2zM314.4 127.5h4.2v4.2h-4.2zM314.6 126.8h4.2v4.2h-4.2zM314.8 126.2h4.2v4.2h-4.2zM315.0 125.5h4.2v4.2h-4.2zM315.2 124.8h4.2v4.2h-4.2zM315.4 124.1h4.2v4.2h-4.2zM315.6 123.5h4.2v4.2h-4.2zM315.8 122.8h4.2v4.2h-4.2zM316.0 122.1h4.2v4.2h-4.2zM316.1 121.4h4.2v4.2h-4.2zM316.3 120.8h4.2v4.2h-4.2zM316.5 120.1h4.2v4.2h-4.2zM316.7 119.4h4.2v4.2h-4.2zM316.9 118.7h4.2v4.2h-4.2zM317.1 118.1h4.2v4.2h-4.2zM317.3 117.4h4.2v4.2h-4.2zM317.5 116.7h4.2v4.2h-4.2zM317.5 116.7h4.2v4.2h-4.2zM317.8 116.2h4.2v4.2h-4.2zM318.3 115.6h4.2v4.2h-4.2zM318.8 115.1h4.2v4.2h-4.2zM319.2 114.6h4.2v4.2h-4.2zM319.7 114.0h4.2v4.2h-4.2zM320.2 113.5h4.2v4.2h-4.2zM320.6 113.0h4.2v4.2h-4.2zM321.1 112.5h4.2v4.2h-4.2zM321.5 111.9h4.2v4.2h-4.2zM322.0 111.4h4.2v4.2h-4.2zM322.5 110.9h4.2v4.2h-4.2zM322.9 110.3h4.2v4.2h-4.2zM323.4 109.8h4.2v4.2h-4.2zM323.8 109.2h4.2v4.2h-4.2zM324.3 108.7h4.2v4.2h-4.2zM324.7 108.2h4.2v4.2h-4.2zM325.2 107.6h4.2v4.2h-4.2zM325.6 107.1h4.2v4.2h-4.2zM326.1 106.6h4.2v4.2h-4.2zM326.5 106.0h4.2v4.2h-4.2zM327.0 105.5h4.2v4.2h-4.2zM327.4 104.9h4.2v4.2h-4.2zM327.9 104.4h4.2v4.2h-4.2zM328.3 103.9h4.2v4.2h-4.2zM328.8 103.3h4.2v4.2h-4.2zM329.2 102.8h4.2v4.2h-4.2zM329.7 102.2h4.2v4.2h-4.2zM330.1 101.7h4.2v4.2h-4.2zM330.5 101.1h4.2v4.2h-4.2zM331.0 100.6h4.2v4.2h-4.2zM331.4 100.0h4.2v4.2h-4.2zM331.9 99.5h4.2v4.2h-4.2zM332.3 99.0h4.2v4.2h-4.2zM332.8 98.4h4.2v4.2h-4.2zM333.2 97.9h4.2v4.2h-4.2zM333.6 97.3h4.2v4.2h-4.2zM334.1 96.8h4.2v4.2h-4.2zM334.5 96.2h4.2v4.2h-4.2zM335.0 95.7h4.2v4.2h-4.2zM335.4 95.1h4.2v4.2h-4.2zM335.8 94.6h4.2v4.2h-4.2zM336.3 94.0h4.2v4.2h-4.2zM336.7 93.5h4.2v4.2h-4.2zM337.2 92.9h4.2v4.2h-4.2zM337.6 92.4h4.2v4.2h-4.2zM338.0 91.8h4.2v4.2h-4.2zM338.5 91.3h4.2v4.2h-4.2zM338.9 90.7h4.2v4.2h-4.2zM339.3 90.2h4.2v4.2h-4.2zM339.8 89.6h4.2v4.2h-4.2zM340.2 89.1h4.2v4.2h-4.2zM340.6 88.5h4.2v4.2h-4.2zM341.1 88.0h4.2v4.2h-4.2zM341.5 87.4h4.2v4.2h-4.2zM342.0 86.9h4.2v4.2h-4.2zM342.4 86.3h4.2v4.2h-4.2zM342.8 85.8h4.2v4.2h-4.2zM343.3 85.2h4.2v4.2h-4.2zM343.7 84.7h4.2v4.2h-4.2zM344.1 84.1h4.2v4.2h-4.2zM344.6 83.5h4.2v4.2h-4.2zM345.0 83.0h4.2v4.2h-4.2zM345.4 82.4h4.2v4.2h-4.2zM345.9 81.9h4.2v4.2h-4.2zM346.3 81.3h4.2v4.2h-4.2zM346.7 80.8h4.2v4.2h-4.2zM347.2 80.2h4.2v4.2h-4.2zM347.6 79.7h4.2v4.2h-4.2zM348.0 79.1h4.2v4.2h-4.2zM348.5 78.6h4.2v4.2h-4.2zM348.9 78.0h4.2v4.2h-4.2zM349.4 77.5h4.2v4.2h-4.2zM349.8 76.9h4.2v4.2h-4.2zM350.2 76.4h4.2v4.2h-4.2zM350.7 75.8h4.2v4.2h-4.2zM351.1 75.3h4.2v4.2h-4.2zM351.5 74.7h4.2v4.2h-4.2zM352.0 74.2h4.2v4.2h-4.2zM352.4 73.6h4.2v4.2h-4.2zM352.8 73.1h4.2v4.2h-4.2zM353.3 72.5h4.2v4.2h-4.2zM353.7 72.0h4.2v4.2h-4.2zM354.2 71.4h4.2v4.2h-4.2zM354.6 70.9h4.2v4.2h-4.2zM355.0 70.3h4.2v4.2h-4.2zM355.5 69.8h4.2v4.2h-4.2zM355.9 69.2h4.2v4.2h-4.2zM356.4 68.7h4.2v4.2h-4.2zM356.8 68.1h4.2v4.2h-4.2zM357.3 67.6h4.2v4.2h-4.2zM357.7 67.1h4.2v4.2h-4.2zM358.1 66.5h4.2v4.2h-4.2zM358.6 66.0h4.2v4.2h-4.2zM359.0 65.4h4.2v4.2h-4.2zM359.5 64.9h4.2v4.2h-4.2zM359.9 64.3h4.2v4.2h-4.2zM360.4 63.8h4.2v4.2h-4.2zM360.8 63.2h4.2v4.2h-4.2zM361.3 62.7h4.2v4.2h-4.2zM361.7 62.2h4.2v4.2h-4.2zM362.2 61.6h4.2v4.2h-4.2zM362.6 61.1h4.2v4.2h-4.2zM363.1 60.5h4.2v4.2h-4.2zM363.5 60.0h4.2v4.2h-4.2zM364.0 59.5h4.2v4.2h-4.2zM364.4 58.9h4.2v4.2h-4.2zM364.9 58.4h4.2v4.2h-4.2zM365.3 57.9h4.2v4.2h-4.2zM365.8 57.3h4.2v4.2h-4.2zM366.2 56.8h4.2v4.2h-4.2zM366.7 56.3h4.2v4.2h-4.2zM367.1 55.7h4.2v4.2h-4.2zM367.6 55.2h4.2v4.2h-4.2zM368.1 54.7h4.2v4.2h-4.2zM368.5 54.1h4.2v4.2h-4.2zM369.0 53.6h4.2v4.2h-4.2zM369.5 53.1h4.2v4.2h-4.2zM369.9 52.5h4.2v4.2h-4.2zM370.4 52.0h4.2v4.2h-4.2zM370.8 51.5h4.2v4.2h-4.2zM371.3 51.0h4.2v4.2h-4.2zM371.8 50.4h4.2v4.2h-4.2zM372.2 49.9h4.2v4.2h-4.2zM372.7 49.4h4.2v4.2h-4.2zM373.2 48.9h4.2v4.2h-4.2zM373.7 48.3h4.2v4.2h-4.2zM374.1 47.8h4.2v4.2h-4.2zM374.6 47.3h4.2v4.2h-4.2zM375.1 46.8h4.2v4.2h-4.2zM375.6 46.3h4.2v4.2h-4.2zM376.0 45.8h4.2v4.2h-4.2zM376.5 45.2h4.2v4.2h-4.2zM377.0 44.7h4.2v4.2h-4.2zM377.5 44.2h4.2v4.2h-4.2zM378.0 43.7h4.2v4.2h-4.2zM378.4 43.2h4.2v4.2h-4.2zM378.9 42.7h4.2v4.2h-4.2zM379.4 42.2h4.2v4.2h-4.2zM379.9 41.7h4.2v4.2h-4.2zM380.4 41.2h4.2v4.2h-4.2zM380.9 40.7h4.2v4.2h-4.2zM381.4 40.2h4.2v4.2h-4.2zM381.9 39.7h4.2v4.2h-4.2zM382.4 39.4h4.2v4.2h-4.2zM382.4 39.4h4.2v4.2h-4.2zM382.6 40.0h4.2v4.2h-4.2zM382.5 40.7h4.2v4.2h-4.2zM382.3 41.4h4.2v4.2h-4.2zM382.2 42.1h4.2v4.2h-4.2zM382.1 42.8h4.2v4.2h-4.2zM382.0 43.5h4.2v4.2h-4.2zM381.9 44.2h4.2v4.2h-4.2zM381.8 44.8h4.2v4.2h-4.2zM381.6 45.5h4.2v4.2h-4.2zM381.5 46.2h4.2v4.2h-4.2zM381.4 46.9h4.2v4.2h-4.2zM381.3 47.6h4.2v4.2h-4.2zM381.2 48.3h4.2v4.2h-4.2zM381.1 49.0h4.2v4.2h-4.2zM380.9 49.7h4.2v4.2h-4.2zM380.8 50.4h4.2v4.2h-4.2zM380.7 51.1h4.2v4.2h-4.2zM380.6 51.8h4.2v4.2h-4.2zM380.5 52.4h4.2v4.2h-4.2zM380.4 53.1h4.2v4.2h-4.2zM380.3 53.8h4.2v4.2h-4.2zM380.1 54.5h4.2v4.2h-4.2zM380.0 55.2h4.2v4.2h-4.2zM379.9 55.9h4.2v4.2h-4.2zM379.8 56.6h4.2v4.2h-4.2zM379.7 57.3h4.2v4.2h-4.2zM379.6 58.0h4.2v4.2h-4.2zM379.5 58.7h4.2v4.2h-4.2zM379.4 59.4h4.2v4.2h-4.2zM379.2 60.0h4.2v4.2h-4.2zM379.1 60.7h4.2v4.2h-4.2zM379.0 61.4h4.2v4.2h-4.2zM378.9 62.1h4.2v4.2h-4.2zM378.8 62.8h4.2v4.2h-4.2zM378.7 63.5h4.2v4.2h-4.2zM378.5 64.2h4.2v4.2h-4.2zM378.4 64.9h4.2v4.2h-4.2zM378.3 65.6h4.2v4.2h-4.2zM378.2 66.3h4.2v4.2h-4.2zM378.1 67.0h4.2v4.2h-4.2zM378.0 67.6h4.2v4.2h-4.2zM377.8 68.3h4.2v4.2h-4.2zM377.7 69.0h4.2v4.2h-4.2zM377.6 69.7h4.2v4.2h-4.2zM377.5 70.4h4.2v4.2h-4.2zM377.3 71.1h4.2v4.2h-4.2zM377.2 71.8h4.2v4.2h-4.2zM377.1 72.5h4.2v4.2h-4.2zM377.0 73.2h4.2v4.2h-4.2zM376.9 73.8h4.2v4.2h-4.2zM376.7 74.5h4.2v4.2h-4.2zM376.6 75.2h4.2v4.2h-4.2zM376.5 75.9h4.2v4.2h-4.2zM376.3 76.6h4.2v4.2h-4.2zM376.2 77.3h4.2v4.2h-4.2zM376.1 78.0h4.2v4.2h-4.2zM375.9 78.7h4.2v4.2h-4.2zM375.8 79.4h4.2v4.2h-4.2zM375.7 80.0h4.2v4.2h-4.2zM375.5 80.7h4.2v4.2h-4.2zM375.4 81.4h4.2v4.2h-4.2zM375.3 82.1h4.2v4.2h-4.2zM375.1 82.8h4.2v4.2h-4.2zM375.0 83.5h4.2v4.2h-4.2zM374.9 84.2h4.2v4.2h-4.2zM374.7 84.8h4.2v4.2h-4.2zM374.6 85.5h4.2v4.2h-4.2zM374.4 86.2h4.2v4.2h-4.2zM374.3 86.9h4.2v4.2h-4.2zM374.1 87.6h4.2v4.2h-4.2zM374.0 88.3h4.2v4.2h-4.2zM373.8 89.0h4.2v4.2h-4.2zM373.7 89.6h4.2v4.2h-4.2zM373.5 90.3h4.2v4.2h-4.2zM373.4 91.0h4.2v4.2h-4.2zM373.2 91.7h4.2v4.2h-4.2zM373.1 92.4h4.2v4.2h-4.2zM372.9 93.1h4.2v4.2h-4.2zM372.7 93.7h4.2v4.2h-4.2zM372.6 94.4h4.2v4.2h-4.2zM372.4 95.1h4.2v4.2h-4.2zM372.2 95.8h4.2v4.2h-4.2zM372.1 96.5h4.2v4.2h-4.2zM371.9 97.1h4.2v4.2h-4.2zM371.7 97.8h4.2v4.2h-4.2zM371.6 98.5h4.2v4.2h-4.2zM371.4 99.2h4.2v4.2h-4.2zM371.2 99.8h4.2v4.2h-4.2zM371.0 100.5h4.2v4.2h-4.2zM370.8 101.2h4.2v4.2h-4.2zM370.7 101.9h4.2v4.2h-4.2zM370.5 102.5h4.2v4.2h-4.2zM370.3 103.2h4.2v4.2h-4.2zM370.1 103.9h4.2v4.2h-4.2zM369.9 104.6h4.2v4.2h-4.2zM369.7 105.2h4.2v4.2h-4.2zM369.5 105.9h4.2v4.2h-4.2zM369.3 106.6h4.2v4.2h-4.2zM369.1 107.3h4.2v4.2h-4.2zM368.9 107.9h4.2v4.2h-4.2zM368.7 108.6h4.2v4.2h-4.2zM368.5 109.3h4.2v4.2h-4.2zM368.3 109.9h4.2v4.2h-4.2zM368.1 110.6h4.2v4.2h-4.2zM367.9 111.3h4.2v4.2h-4.2zM367.6 111.9h4.2v4.2h-4.2zM367.4 112.6h4.2v4.2h-4.2zM367.2 113.3h4.2v4.2h-4.2zM367.0 113.9h4.2v4.2h-4.2zM366.7 114.6h4.2v4.2h-4.2zM366.5 115.2h4.2v4.2h-4.2zM366.3 115.9h4.2v4.2h-4.2zM366.0 116.6h4.2v4.2h-4.2zM365.8 117.2h4.2v4.2h-4.2zM365.6 117.9h4.2v4.2h-4.2zM365.3 118.5h4.2v4.2h-4.2zM365.1 119.2h4.2v4.2h-4.2zM364.8 119.9h4.2v4.2h-4.2zM364.6 120.5h4.2v4.2h-4.2zM364.3 121.2h4.2v4.2h-4.2zM364.1 121.8h4.2v4.2h-4.2zM363.8 122.5h4.2v4.2h-4.2zM363.6 123.1h4.2v4.2h-4.2zM363.3 123.8h4.2v4.2h-4.2zM363.0 124.4h4.2v4.2h-4.2zM362.8 125.1h4.2v4.2h-4.2zM362.5 125.7h4.2v4.2h-4.2zM362.2 126.4h4.2v4.2h-4.2zM361.9 127.0h4.2v4.2h-4.2zM361.7 127.6h4.2v4.2h-4.2zM361.4 128.3h4.2v4.2h-4.2zM361.1 128.9h4.2v4.2h-4.2zM360.8 129.6h4.2v4.2h-4.2zM360.6 130.2h4.2v4.2h-4.2zM360.3 130.8h4.2v4.2h-4.2zM360.0 131.5h4.2v4.2h-4.2zM359.7 132.1h4.2v4.2h-4.2zM359.4 132.8h4.2v4.2h-4.2zM359.1 133.4h4.2v4.2h-4.2zM358.8 134.0h4.2v4.2h-4.2zM358.5 134.7h4.2v4.2h-4.2zM358.2 135.3h4.2v4.2h-4.2zM357.9 135.9h4.2v4.2h-4.2zM357.6 136.6h4.2v4.2h-4.2zM357.3 137.2h4.2v4.2h-4.2zM357.0 137.8h4.2v4.2h-4.2zM356.7 138.5h4.2v4.2h-4.2zM356.4 139.1h4.2v4.2h-4.2zM356.1 139.7h4.2v4.2h-4.2zM355.8 140.4h4.2v4.2h-4.2zM355.5 141.0h4.2v4.2h-4.2zM355.2 141.6h4.2v4.2h-4.2zM354.9 142.2h4.2v4.2h-4.2zM354.6 142.9h4.2v4.2h-4.2zM354.3 143.5h4.2v4.2h-4.2zM353.9 144.1h4.2v4.2h-4.2zM353.6 144.7h4.2v4.2h-4.2zM353.3 145.4h4.2v4.2h-4.2zM353.0 146.0h4.2v4.2h-4.2zM352.7 146.6h4.2v4.2h-4.2zM352.4 147.2h4.2v4.2h-4.2zM352.0 147.9h4.2v4.2h-4.2zM351.7 148.5h4.2v4.2h-4.2zM351.4 149.1h4.2v4.2h-4.2zM351.1 149.7h4.2v4.2h-4.2zM350.8 150.4h4.2v4.2h-4.2zM350.4 151.0h4.2v4.2h-4.2zM350.1 151.6h4.2v4.2h-4.2zM349.8 152.2h4.2v4.2h-4.2zM349.5 152.8h4.2v4.2h-4.2zM349.1 153.5h4.2v4.2h-4.2zM348.8 154.1h4.2v4.2h-4.2zM348.5 154.7h4.2v4.2h-4.2zM348.2 155.3h4.2v4.2h-4.2zM347.8 155.9h4.2v4.2h-4.2zM347.5 156.6h4.2v4.2h-4.2zM347.2 157.2h4.2v4.2h-4.2zM346.9 157.8h4.2v4.2h-4.2zM346.5 158.4h4.2v4.2h-4.2zM346.2 159.0h4.2v4.2h-4.2zM345.9 159.7h4.2v4.2h-4.2zM345.6 160.3h4.2v4.2h-4.2zM345.2 160.9h4.2v4.2h-4.2zM344.9 161.5h4.2v4.2h-4.2zM344.6 162.1h4.2v4.2h-4.2zM344.2 162.8h4.2v4.2h-4.2zM343.9 163.4h4.2v4.2h-4.2zM343.6 164.0h4.2v4.2h-4.2zM343.2 164.6h4.2v4.2h-4.2zM342.9 165.2h4.2v4.2h-4.2zM342.6 165.8h4.2v4.2h-4.2zM342.2 166.4h4.2v4.2h-4.2zM341.9 167.1h4.2v4.2h-4.2zM341.6 167.7h4.2v4.2h-4.2zM341.2 168.3h4.2v4.2h-4.2zM340.9 168.9h4.2v4.2h-4.2zM340.6 169.5h4.2v4.2h-4.2zM340.2 170.1h4.2v4.2h-4.2zM339.9 170.8h4.2v4.2h-4.2zM339.6 171.4h4.2v4.2h-4.2zM339.2 172.0h4.2v4.2h-4.2zM338.9 172.6h4.2v4.2h-4.2zM338.5 173.2h4.2v4.2h-4.2zM338.2 173.8h4.2v4.2h-4.2zM337.9 174.4h4.2v4.2h-4.2zM337.5 175.0h4.2v4.2h-4.2zM337.2 175.7h4.2v4.2h-4.2zM336.8 176.3h4.2v4.2h-4.2zM336.5 176.9h4.2v4.2h-4.2zM336.2 177.5h4.2v4.2h-4.2zM335.8 178.1h4.2v4.2h-4.2zM335.5 178.7h4.2v4.2h-4.2zM335.1 179.3h4.2v4.2h-4.2zM334.8 179.9h4.2v4.2h-4.2zM334.4 180.5h4.2v4.2h-4.2zM334.1 181.2h4.2v4.2h-4.2zM333.8 181.8h4.2v4.2h-4.2zM333.4 182.4h4.2v4.2h-4.2zM333.1 183.0h4.2v4.2h-4.2zM332.7 183.6h4.2v4.2h-4.2zM332.4 184.2h4.2v4.2h-4.2zM332.0 184.8h4.2v4.2h-4.2zM331.7 185.4h4.2v4.2h-4.2zM331.3 186.0h4.2v4.2h-4.2zM331.0 186.6h4.2v4.2h-4.2zM330.6 187.2h4.2v4.2h-4.2zM330.3 187.8h4.2v4.2h-4.2zM329.9 188.4h4.2v4.2h-4.2zM329.6 189.0h4.2v4.2h-4.2zM329.2 189.7h4.2v4.2h-4.2zM328.9 190.3h4.2v4.2h-4.2zM328.5 190.9h4.2v4.2h-4.2zM328.2 191.5h4.2v4.2h-4.2zM327.8 192.1h4.2v4.2h-4.2zM327.5 192.7h4.2v4.2h-4.2zM327.1 193.3h4.2v4.2h-4.2zM326.7 193.9h4.2v4.2h-4.2zM326.4 194.5h4.2v4.2h-4.2zM326.0 195.1h4.2v4.2h-4.2zM325.7 195.7h4.2v4.2h-4.2zM325.3 196.3h4.2v4.2h-4.2zM325.0 196.9h4.2v4.2h-4.2zM324.6 197.5h4.2v4.2h-4.2zM324.2 198.1h4.2v4.2h-4.2zM323.9 198.7h4.2v4.2h-4.2zM323.5 199.3h4.2v4.2h-4.2zM323.2 199.9h4.2v4.2h-4.2zM322.8 200.5h4.2v4.2h-4.2zM322.4 201.1h4.2v4.2h-4.2zM322.1 201.7h4.2v4.2h-4.2zM321.7 202.3h4.2v4.2h-4.2zM321.3 202.9h4.2v4.2h-4.2zM321.0 203.5h4.2v4.2h-4.2zM320.6 204.1h4.2v4.2h-4.2zM320.3 204.7h4.2v4.2h-4.2zM319.9 205.3h4.2v4.2h-4.2zM319.5 205.9h4.2v4.2h-4.2zM319.2 206.5h4.2v4.2h-4.2zM318.8 207.1h4.2v4.2h-4.2zM318.4 207.7h4.2v4.2h-4.2zM318.1 208.3h4.2v4.2h-4.2zM317.7 208.9h4.2v4.2h-4.2zM317.3 209.5h4.2v4.2h-4.2zM317.0 210.1h4.2v4.2h-4.2zM316.6 210.7h4.2v4.2h-4.2zM316.2 211.2h4.2v4.2h-4.2zM315.8 211.8h4.2v4.2h-4.2zM315.5 212.4h4.2v4.2h-4.2zM315.1 213.0h4.2v4.2h-4.2zM314.7 213.6h4.2v4.2h-4.2zM314.4 214.2h4.2v4.2h-4.2zM314.0 214.8h4.2v4.2h-4.2zM313.6 215.4h4.2v4.2h-4.2zM313.2 216.0h4.2v4.2h-4.2zM312.9 216.6h4.2v4.2h-4.2zM312.5 217.2h4.2v4.2h-4.2zM312.1 217.8h4.2v4.2h-4.2zM311.7 218.4h4.2v4.2h-4.2zM311.4 219.0h4.2v4.2h-4.2zM311.0 219.5h4.2v4.2h-4.2zM310.6 220.1h4.2v4.2h-4.2zM310.2 220.7h4.2v4.2h-4.2zM309.9 221.3h4.2v4.2h-4.2zM309.5 221.9h4.2v4.2h-4.2zM309.1 222.5h4.2v4.2h-4.2zM308.7 223.1h4.2v4.2h-4.2zM308.4 223.7h4.2v4.2h-4.2zM308.0 224.3h4.2v4.2h-4.2zM307.6 224.9h4.2v4.2h-4.2zM307.2 225.4h4.2v4.2h-4.2zM306.9 226.0h4.2v4.2h-4.2zM306.5 226.6h4.2v4.2h-4.2zM306.1 227.2h4.2v4.2h-4.2zM305.7 227.8h4.2v4.2h-4.2zM305.3 228.4h4.2v4.2h-4.2zM305.0 229.0h4.2v4.2h-4.2zM304.6 229.6h4.2v4.2h-4.2zM304.2 230.2h4.2v4.2h-4.2zM303.8 230.7h4.2v4.2h-4.2zM303.4 231.3h4.2v4.2h-4.2zM303.0 231.9h4.2v4.2h-4.2zM302.7 232.5h4.2v4.2h-4.2zM302.3 233.1h4.2v4.2h-4.2zM301.9 233.7h4.2v4.2h-4.2zM301.5 234.3h4.2v4.2h-4.2zM301.1 234.8h4.2v4.2h-4.2zM300.7 235.4h4.2v4.2h-4.2zM300.4 236.0h4.2v4.2h-4.2zM300.0 236.6h4.2v4.2h-4.2zM299.6 237.2h4.2v4.2h-4.2zM299.2 237.8h4.2v4.2h-4.2zM298.8 238.4h4.2v4.2h-4.2zM298.4 238.9h4.2v4.2h-4.2zM298.1 239.5h4.2v4.2h-4.2zM297.7 240.1h4.2v4.2h-4.2zM297.3 240.7h4.2v4.2h-4.2zM296.9 241.3h4.2v4.2h-4.2zM296.5 241.9h4.2v4.2h-4.2zM296.1 242.5h4.2v4.2h-4.2zM295.7 243.0h4.2v4.2h-4.2zM295.4 243.6h4.2v4.2h-4.2zM295.0 244.2h4.2v4.2h-4.2zM294.6 244.8h4.2v4.2h-4.2zM294.2 245.4h4.2v4.2h-4.2zM293.8 246.0h4.2v4.2h-4.2zM293.4 246.5h4.2v4.2h-4.2zM293.0 247.1h4.2v4.2h-4.2zM292.6 247.7h4.2v4.2h-4.2zM292.2 248.3h4.2v4.2h-4.2zM291.9 248.9h4.2v4.2h-4.2zM291.5 249.4h4.2v4.2h-4.2zM291.1 250.0h4.2v4.2h-4.2zM290.7 250.6h4.2v4.2h-4.2zM290.3 251.2h4.2v4.2h-4.2zM289.9 251.8h4.2v4.2h-4.2zM289.5 252.4h4.2v4.2h-4.2zM289.1 252.9h4.2v4.2h-4.2zM288.7 253.5h4.2v4.2h-4.2zM288.3 254.1h4.2v4.2h-4.2zM288.0 254.7h4.2v4.2h-4.2zM287.6 255.3h4.2v4.2h-4.2zM287.2 255.8h4.2v4.2h-4.2zM286.8 256.4h4.2v4.2h-4.2zM286.4 257.0h4.2v4.2h-4.2zM286.0 257.6h4.2v4.2h-4.2zM285.6 258.2h4.2v4.2h-4.2zM285.2 258.7h4.2v4.2h-4.2zM284.8 259.3h4.2v4.2h-4.2zM284.4 259.9h4.2v4.2h-4.2zM284.0 260.5h4.2v4.2h-4.2zM283.6 261.1h4.2v4.2h-4.2zM283.2 261.6h4.2v4.2h-4.2zM282.9 262.2h4.2v4.2h-4.2zM282.5 262.8h4.2v4.2h-4.2zM282.1 263.4h4.2v4.2h-4.2zM281.7 264.0h4.2v4.2h-4.2zM281.3 264.5h4.2v4.2h-4.2zM280.9 265.1h4.2v4.2h-4.2zM280.5 265.7h4.2v4.2h-4.2zM280.1 266.3h4.2v4.2h-4.2zM279.7 266.9h4.2v4.2h-4.2zM279.3 267.4h4.2v4.2h-4.2zM278.9 268.0h4.2v4.2h-4.2zM278.5 268.6h4.2v4.2h-4.2zM278.1 269.2h4.2v4.2h-4.2zM277.7 269.7h4.2v4.2h-4.2zM277.3 270.3h4.2v4.2h-4.2zM276.9 270.9h4.2v4.2h-4.2zM276.6 271.5h4.2v4.2h-4.2zM276.2 272.1h4.2v4.2h-4.2zM275.8 272.6h4.2v4.2h-4.2zM275.4 273.2h4.2v4.2h-4.2zM275.0 273.8h4.2v4.2h-4.2zM274.6 274.4h4.2v4.2h-4.2zM274.2 275.0h4.2v4.2h-4.2zM273.8 275.5h4.2v4.2h-4.2zM273.4 276.1h4.2v4.2h-4.2zM273.0 276.7h4.2v4.2h-4.2zM272.6 277.3h4.2v4.2h-4.2zM272.2 277.8h4.2v4.2h-4.2zM271.8 278.4h4.2v4.2h-4.2zM271.4 279.0h4.2v4.2h-4.2zM271.0 279.6h4.2v4.2h-4.2zM270.6 280.2h4.2v4.2h-4.2zM270.2 280.7h4.2v4.2h-4.2zM269.8 281.3h4.2v4.2h-4.2zM269.4 281.9h4.2v4.2h-4.2zM269.0 282.5h4.2v4.2h-4.2zM268.6 283.0h4.2v4.2h-4.2zM268.3 283.6h4.2v4.2h-4.2zM267.9 284.2h4.2v4.2h-4.2zM267.5 284.8h4.2v4.2h-4.2zM267.1 285.4h4.2v4.2h-4.2zM266.7 285.9h4.2v4.2h-4.2zM266.3 286.5h4.2v4.2h-4.2zM265.9 287.1h4.2v4.2h-4.2zM265.5 287.7h4.2v4.2h-4.2zM265.1 288.2h4.2v4.2h-4.2zM264.7 288.8h4.2v4.2h-4.2zM264.3 289.4h4.2v4.2h-4.2zM263.9 290.0h4.2v4.2h-4.2zM263.5 290.6h4.2v4.2h-4.2zM263.1 291.1h4.2v4.2h-4.2zM262.7 291.7h4.2v4.2h-4.2zM201.6 378.0h4.2v4.2h-4.2zM201.2 378.5h4.2v4.2h-4.2zM200.7 379.1h4.2v4.2h-4.2zM200.3 379.6h4.2v4.2h-4.2zM199.9 380.2h4.2v4.2h-4.2zM199.4 380.7h4.2v4.2h-4.2zM199.0 381.3h4.2v4.2h-4.2zM198.6 381.8h4.2v4.2h-4.2zM198.1 382.4h4.2v4.2h-4.2zM197.7 382.9h4.2v4.2h-4.2zM197.2 383.5h4.2v4.2h-4.2zM196.8 384.0h4.2v4.2h-4.2zM196.4 384.5h4.2v4.2h-4.2zM195.9 385.1h4.2v4.2h-4.2zM195.5 385.6h4.2v4.2h-4.2zM195.0 386.2h4.2v4.2h-4.2zM194.6 386.7h4.2v4.2h-4.2zM194.2 387.3h4.2v4.2h-4.2zM193.7 387.8h4.2v4.2h-4.2zM193.3 388.3h4.2v4.2h-4.2zM192.8 388.9h4.2v4.2h-4.2zM192.4 389.4h4.2v4.2h-4.2zM191.9 390.0h4.2v4.2h-4.2zM191.5 390.5h4.2v4.2h-4.2zM191.0 391.0h4.2v4.2h-4.2zM190.6 391.6h4.2v4.2h-4.2zM190.1 392.1h4.2v4.2h-4.2zM189.7 392.6h4.2v4.2h-4.2zM189.2 393.2h4.2v4.2h-4.2zM188.8 393.7h4.2v4.2h-4.2zM188.3 394.2h4.2v4.2h-4.2zM187.9 394.8h4.2v4.2h-4.2zM187.4 395.3h4.2v4.2h-4.2zM187.0 395.8h4.2v4.2h-4.2zM186.5 396.4h4.2v4.2h-4.2zM186.0 396.9h4.2v4.2h-4.2zM185.6 397.4h4.2v4.2h-4.2zM185.1 398.0h4.2v4.2h-4.2zM184.7 398.5h4.2v4.2h-4.2zM184.2 399.0h4.2v4.2h-4.2zM183.7 399.5h4.2v4.2h-4.2zM183.3 400.1h4.2v4.2h-4.2zM182.8 400.6h4.2v4.2h-4.2zM182.4 401.1h4.2v4.2h-4.2zM181.9 401.6h4.2v4.2h-4.2zM181.4 402.2h4.2v4.2h-4.2zM181.0 402.7h4.2v4.2h-4.2zM180.5 403.2h4.2v4.2h-4.2zM180.0 403.7h4.2v4.2h-4.2zM179.6 404.3h4.2v4.2h-4.2zM179.1 404.8h4.2v4.2h-4.2zM178.6 405.3h4.2v4.2h-4.2zM178.1 405.8h4.2v4.2h-4.2zM177.7 406.3h4.2v4.2h-4.2zM177.2 406.9h4.2v4.2h-4.2zM176.7 407.4h4.2v4.2h-4.2zM176.3 407.9h4.2v4.2h-4.2zM175.8 408.4h4.2v4.2h-4.2zM175.3 408.9h4.2v4.2h-4.2zM174.8 409.4h4.2v4.2h-4.2zM174.4 409.9h4.2v4.2h-4.2zM173.9 410.4h4.2v4.2h-4.2zM173.4 411.0h4.2v4.2h-4.2zM172.9 411.5h4.2v4.2h-4.2zM172.4 412.0h4.2v4.2h-4.2zM172.0 412.5h4.2v4.2h-4.2zM171.5 413.0h4.2v4.2h-4.2zM171.0 413.5h4.2v4.2h-4.2zM170.5 414.0h4.2v4.2h-4.2zM170.0 414.5h4.2v4.2h-4.2zM169.5 415.0h4.2v4.2h-4.2zM169.0 415.5h4.2v4.2h-4.2zM168.6 416.0h4.2v4.2h-4.2zM168.1 416.5h4.2v4.2h-4.2zM167.6 417.0h4.2v4.2h-4.2zM167.1 417.5h4.2v4.2h-4.2zM166.6 418.0h4.2v4.2h-4.2zM166.1 418.5h4.2v4.2h-4.2zM165.6 419.0h4.2v4.2h-4.2zM165.1 419.5h4.2v4.2h-4.2zM164.6 420.0h4.2v4.2h-4.2zM164.1 420.5h4.2v4.2h-4.2zM163.6 421.0h4.2v4.2h-4.2zM163.1 421.5h4.2v4.2h-4.2zM162.6 422.0h4.2v4.2h-4.2zM162.1 422.5h4.2v4.2h-4.2zM161.6 423.0h4.2v4.2h-4.2zM161.1 423.5h4.2v4.2h-4.2zM160.6 423.9h4.2v4.2h-4.2zM160.1 424.4h4.2v4.2h-4.2zM159.6 424.9h4.2v4.2h-4.2zM159.1 425.4h4.2v4.2h-4.2zM158.6 425.9h4.2v4.2h-4.2zM158.1 426.4h4.2v4.2h-4.2zM157.6 426.8h4.2v4.2h-4.2zM157.1 427.3h4.2v4.2h-4.2zM156.6 427.8h4.2v4.2h-4.2zM156.0 428.3h4.2v4.2h-4.2zM155.5 428.7h4.2v4.2h-4.2zM155.0 429.2h4.2v4.2h-4.2zM154.5 429.7h4.2v4.2h-4.2zM154.0 430.1h4.2v4.2h-4.2zM153.4 430.6h4.2v4.2h-4.2zM152.9 431.1h4.2v4.2h-4.2zM152.4 431.5h4.2v4.2h-4.2zM151.8 432.0h4.2v4.2h-4.2zM151.3 432.4h4.2v4.2h-4.2zM150.8 432.9h4.2v4.2h-4.2zM150.2 433.3h4.2v4.2h-4.2zM149.7 433.8h4.2v4.2h-4.2zM149.1 434.2h4.2v4.2h-4.2zM148.6 434.6h4.2v4.2h-4.2zM148.0 435.1h4.2v4.2h-4.2zM147.5 435.5h4.2v4.2h-4.2zM146.9 435.9h4.2v4.2h-4.2zM146.4 436.3h4.2v4.2h-4.2zM145.8 436.7h4.2v4.2h-4.2zM145.2 437.1h4.2v4.2h-4.2zM144.7 437.6h4.2v4.2h-4.2zM144.1 438.0h4.2v4.2h-4.2zM143.5 438.3h4.2v4.2h-4.2zM142.9 438.7h4.2v4.2h-4.2zM142.3 439.1h4.2v4.2h-4.2zM141.7 439.5h4.2v4.2h-4.2zM141.2 439.9h4.2v4.2h-4.2zM140.6 440.2h4.2v4.2h-4.2zM140.0 440.6h4.2v4.2h-4.2zM139.3 440.9h4.2v4.2h-4.2zM138.7 441.3h4.2v4.2h-4.2zM138.1 441.6h4.2v4.2h-4.2zM137.5 442.0h4.2v4.2h-4.2zM136.9 442.3h4.2v4.2h-4.2zM136.3 442.6h4.2v4.2h-4.2zM135.6 442.9h4.2v4.2h-4.2zM135.0 443.2h4.2v4.2h-4.2zM134.4 443.5h4.2v4.2h-4.2zM133.7 443.8h4.2v4.2h-4.2zM133.1 444.0h4.2v4.2h-4.2zM132.4 444.3h4.2v4.2h-4.2zM131.8 444.6h4.2v4.2h-4.2zM131.1 444.8h4.2v4.2h-4.2zM130.5 445.1h4.2v4.2h-4.2zM129.8 445.3h4.2v4.2h-4.2zM129.1 445.5h4.2v4.2h-4.2zM128.5 445.7h4.2v4.2h-4.2zM127.8 445.9h4.2v4.2h-4.2zM127.1 446.1h4.2v4.2h-4.2zM126.4 446.3h4.2v4.2h-4.2zM125.8 446.4h4.2v4.2h-4.2zM125.1 446.6h4.2v4.2h-4.2zM124.4 446.7h4.2v4.2h-4.2zM123.7 446.9h4.2v4.2h-4.2zM123.0 447.0h4.2v4.2h-4.2zM122.3 447.1h4.2v4.2h-4.2zM121.6 447.2h4.2v4.2h-4.2zM120.9 447.3h4.2v4.2h-4.2zM120.2 447.4h4.2v4.2h-4.2zM119.5 447.4h4.2v4.2h-4.2zM118.8 447.5h4.2v4.2h-4.2zM118.1 447.5h4.2v4.2h-4.2zM117.4 447.6h4.2v4.2h-4.2zM116.7 447.6h4.2v4.2h-4.2zM116.0 447.6h4.2v4.2h-4.2zM115.3 447.6h4.2v4.2h-4.2zM114.6 447.6h4.2v4.2h-4.2zM113.9 447.6h4.2v4.2h-4.2zM113.2 447.5h4.2v4.2h-4.2zM112.5 447.5h4.2v4.2h-4.2zM111.9 447.4h4.2v4.2h-4.2zM111.2 447.4h4.2v4.2h-4.2zM110.5 447.3h4.2v4.2h-4.2zM109.8 447.2h4.2v4.2h-4.2zM109.1 447.1h4.2v4.2h-4.2zM108.5 447.2h4.2v4.2h-4.2z" fill="#FF8000"/>
<path d="M262.0 293.9h3.4v3.4h-3.4zM260.8 295.5h3.4v3.4h-3.4zM259.7 297.2h3.4v3.4h-3.4zM258.6 298.8h3.4v3.4h-3.4zM257.4 300.5h3.4v3.4h-3.4zM256.3 302.2h3.4v3.4h-3.4zM255.2 303.8h3.4v3.4h-3.4zM254.0 305.5h3.4v3.4h-3.4zM252.9 307.1h3.4v3.4h-3.4zM251.8 308.8h3.4v3.4h-3.4zM250.6 310.4h3.4v3.4h-3.4zM249.5 312.1h3.4v3.4h-3.4zM248.4 313.8h3.4v3.4h-3.4zM247.3 315.4h3.4v3.4h-3.4zM246.1 317.1h3.4v3.4h-3.4zM245.0 318.7h3.4v3.4h-3.4zM243.9 320.4h3.4v3.4h-3.4zM242.7 322.1h3.4v3.4h-3.4zM241.6 323.7h3.4v3.4h-3.4zM240.5 325.4h3.4v3.4h-3.4zM239.3 327.0h3.4v3.4h-3.4zM238.2 328.7h3.4v3.4h-3.4zM237.1 330.3h3.4v3.4h-3.4zM235.9 332.0h3.4v3.4h-3.4zM234.8 333.6h3.4v3.4h-3.4zM233.6 335.3h3.4v3.4h-3.4zM232.5 336.9h3.4v3.4h-3.4zM231.3 338.6h3.4v3.4h-3.4zM230.2 340.2h3.4v3.4h-3.4zM229.0 341.9h3.4v3.4h-3.4zM227.9 343.5h3.4v3.4h-3.4zM226.7 345.1h3.4v3.4h-3.4zM225.6 346.8h3.4v3.4h-3.4zM224.4 348.4h3.4v3.4h-3.4zM223.2 350.0h3.4v3.4h-3.4zM222.1 351.7h3.4v3.4h-3.4zM220.9 353.3h3.4v3.4h-3.4zM219.7 354.9h3.4v3.4h-3.4zM218.5 356.6h3.4v3.4h-3.4zM217.3 358.2h3.4v3.4h-3.4zM216.2 359.8h3.4v3.4h-3.4zM215.0 361.4h3.4v3.4h-3.4zM213.8 363.0h3.4v3.4h-3.4zM212.6 364.6h3.4v3.4h-3.4zM211.4 366.2h3.4v3.4h-3.4zM210.2 367.8h3.4v3.4h-3.4zM209.0 369.4h3.4v3.4h-3.4zM207.7 371.0h3.4v3.4h-3.4zM206.5 372.6h3.4v3.4h-3.4zM205.3 374.2h3.4v3.4h-3.4zM204.1 375.8h3.4v3.4h-3.4zM202.8 377.4h3.4v3.4h-3.4z" fill="none" stroke="#FF8000" stroke-width="0.85"/>
<path d="M302.2 159.6 L456.1 226.0 L464.0 226.0" fill="none" stroke="#000" stroke-width="1.05"/>
<rect x="454.35" y="224.25" width="3.5" height="3.5" fill="#fff" stroke="#000" stroke-width="1"/>
<path d="M76.0 447.2h4.3v4.3h-4.3zM76.5 446.6h4.3v4.3h-4.3zM76.9 446.0h4.3v4.3h-4.3zM77.3 445.5h4.3v4.3h-4.3zM77.8 444.9h4.3v4.3h-4.3zM78.2 444.4h4.3v4.3h-4.3zM78.6 443.8h4.3v4.3h-4.3zM79.0 443.2h4.3v4.3h-4.3zM79.4 442.7h4.3v4.3h-4.3zM79.9 442.1h4.3v4.3h-4.3zM80.3 441.6h4.3v4.3h-4.3zM80.7 441.0h4.3v4.3h-4.3zM81.1 440.5h4.3v4.3h-4.3zM81.5 439.9h4.3v4.3h-4.3zM82.0 439.3h4.3v4.3h-4.3zM82.4 438.8h4.3v4.3h-4.3zM82.8 438.2h4.3v4.3h-4.3zM83.2 437.7h4.3v4.3h-4.3zM83.7 437.1h4.3v4.3h-4.3zM84.1 436.5h4.3v4.3h-4.3zM84.5 436.0h4.3v4.3h-4.3zM84.9 435.4h4.3v4.3h-4.3zM85.3 434.9h4.3v4.3h-4.3zM85.8 434.3h4.3v4.3h-4.3zM86.2 433.8h4.3v4.3h-4.3zM86.6 433.2h4.3v4.3h-4.3zM87.0 432.6h4.3v4.3h-4.3zM87.5 432.1h4.3v4.3h-4.3zM87.9 431.5h4.3v4.3h-4.3zM88.3 431.0h4.3v4.3h-4.3zM88.7 430.4h4.3v4.3h-4.3zM89.2 429.8h4.3v4.3h-4.3zM89.6 429.3h4.3v4.3h-4.3zM90.0 428.7h4.3v4.3h-4.3zM90.4 428.2h4.3v4.3h-4.3zM90.8 427.6h4.3v4.3h-4.3zM91.3 427.1h4.3v4.3h-4.3zM91.7 426.5h4.3v4.3h-4.3zM92.1 425.9h4.3v4.3h-4.3zM92.5 425.4h4.3v4.3h-4.3zM93.0 424.8h4.3v4.3h-4.3zM93.4 424.3h4.3v4.3h-4.3zM93.8 423.7h4.3v4.3h-4.3zM94.2 423.2h4.3v4.3h-4.3zM94.7 422.6h4.3v4.3h-4.3zM95.1 422.0h4.3v4.3h-4.3zM95.5 421.5h4.3v4.3h-4.3zM95.9 420.9h4.3v4.3h-4.3zM96.4 420.4h4.3v4.3h-4.3zM96.8 419.8h4.3v4.3h-4.3zM97.2 419.3h4.3v4.3h-4.3zM97.6 418.7h4.3v4.3h-4.3zM98.1 418.1h4.3v4.3h-4.3zM98.5 417.6h4.3v4.3h-4.3zM98.9 417.0h4.3v4.3h-4.3zM99.3 416.5h4.3v4.3h-4.3zM99.8 415.9h4.3v4.3h-4.3zM100.2 415.4h4.3v4.3h-4.3zM100.6 414.8h4.3v4.3h-4.3zM101.0 414.2h4.3v4.3h-4.3zM101.5 413.7h4.3v4.3h-4.3zM101.9 413.1h4.3v4.3h-4.3zM102.3 412.6h4.3v4.3h-4.3zM102.7 412.0h4.3v4.3h-4.3zM103.2 411.5h4.3v4.3h-4.3zM103.6 410.9h4.3v4.3h-4.3zM104.0 410.3h4.3v4.3h-4.3zM104.4 409.8h4.3v4.3h-4.3zM104.9 409.2h4.3v4.3h-4.3zM105.3 408.7h4.3v4.3h-4.3zM105.7 408.1h4.3v4.3h-4.3zM106.1 407.6h4.3v4.3h-4.3zM106.6 407.0h4.3v4.3h-4.3zM107.0 406.5h4.3v4.3h-4.3zM107.4 405.9h4.3v4.3h-4.3zM107.8 405.3h4.3v4.3h-4.3zM108.3 404.8h4.3v4.3h-4.3zM108.7 404.2h4.3v4.3h-4.3zM109.1 403.7h4.3v4.3h-4.3zM109.5 403.1h4.3v4.3h-4.3zM110.0 402.6h4.3v4.3h-4.3zM110.4 402.0h4.3v4.3h-4.3zM110.8 401.4h4.3v4.3h-4.3zM111.2 400.9h4.3v4.3h-4.3zM111.7 400.3h4.3v4.3h-4.3zM112.1 399.8h4.3v4.3h-4.3zM112.5 399.2h4.3v4.3h-4.3zM112.9 398.7h4.3v4.3h-4.3zM113.4 398.1h4.3v4.3h-4.3zM113.8 397.6h4.3v4.3h-4.3zM114.2 397.0h4.3v4.3h-4.3zM114.6 396.4h4.3v4.3h-4.3zM115.1 395.9h4.3v4.3h-4.3zM115.5 395.3h4.3v4.3h-4.3zM115.9 394.8h4.3v4.3h-4.3zM116.4 394.2h4.3v4.3h-4.3zM116.8 393.7h4.3v4.3h-4.3zM117.2 393.1h4.3v4.3h-4.3zM117.6 392.6h4.3v4.3h-4.3zM118.1 392.0h4.3v4.3h-4.3zM118.5 391.4h4.3v4.3h-4.3zM118.9 390.9h4.3v4.3h-4.3zM119.3 390.3h4.3v4.3h-4.3zM119.8 389.8h4.3v4.3h-4.3zM120.2 389.2h4.3v4.3h-4.3zM120.6 388.7h4.3v4.3h-4.3zM121.0 388.1h4.3v4.3h-4.3zM121.5 387.6h4.3v4.3h-4.3zM121.9 387.0h4.3v4.3h-4.3zM122.3 386.5h4.3v4.3h-4.3zM122.8 385.9h4.3v4.3h-4.3zM123.2 385.3h4.3v4.3h-4.3zM123.6 384.8h4.3v4.3h-4.3zM124.0 384.2h4.3v4.3h-4.3zM124.5 383.7h4.3v4.3h-4.3zM124.9 383.1h4.3v4.3h-4.3zM125.3 382.6h4.3v4.3h-4.3zM125.7 382.0h4.3v4.3h-4.3zM126.2 381.5h4.3v4.3h-4.3zM126.6 380.9h4.3v4.3h-4.3zM127.0 380.3h4.3v4.3h-4.3zM127.5 379.8h4.3v4.3h-4.3zM127.9 379.2h4.3v4.3h-4.3zM128.3 378.7h4.3v4.3h-4.3zM128.7 378.1h4.3v4.3h-4.3zM129.2 377.6h4.3v4.3h-4.3zM129.6 377.0h4.3v4.3h-4.3zM130.0 376.5h4.3v4.3h-4.3zM130.4 375.9h4.3v4.3h-4.3zM130.9 375.4h4.3v4.3h-4.3zM131.3 374.8h4.3v4.3h-4.3zM131.7 374.2h4.3v4.3h-4.3zM132.2 373.7h4.3v4.3h-4.3zM132.6 373.1h4.3v4.3h-4.3zM133.0 372.6h4.3v4.3h-4.3zM133.4 372.0h4.3v4.3h-4.3zM133.9 371.5h4.3v4.3h-4.3zM134.3 370.9h4.3v4.3h-4.3zM134.7 370.4h4.3v4.3h-4.3zM135.2 369.8h4.3v4.3h-4.3zM135.6 369.3h4.3v4.3h-4.3zM136.0 368.7h4.3v4.3h-4.3zM136.4 368.2h4.3v4.3h-4.3zM136.9 367.6h4.3v4.3h-4.3zM137.3 367.0h4.3v4.3h-4.3zM137.7 366.5h4.3v4.3h-4.3zM138.2 365.9h4.3v4.3h-4.3zM138.6 365.4h4.3v4.3h-4.3zM139.0 364.8h4.3v4.3h-4.3zM139.4 364.3h4.3v4.3h-4.3zM139.9 363.7h4.3v4.3h-4.3zM140.3 363.2h4.3v4.3h-4.3zM140.7 362.6h4.3v4.3h-4.3zM141.2 362.1h4.3v4.3h-4.3zM141.6 361.5h4.3v4.3h-4.3zM142.0 361.0h4.3v4.3h-4.3zM142.4 360.4h4.3v4.3h-4.3zM142.9 359.8h4.3v4.3h-4.3zM143.3 359.3h4.3v4.3h-4.3zM143.7 358.7h4.3v4.3h-4.3zM144.2 358.2h4.3v4.3h-4.3zM144.6 357.6h4.3v4.3h-4.3zM145.0 357.1h4.3v4.3h-4.3zM145.4 356.5h4.3v4.3h-4.3zM145.9 356.0h4.3v4.3h-4.3zM146.3 355.4h4.3v4.3h-4.3zM146.7 354.9h4.3v4.3h-4.3zM147.2 354.3h4.3v4.3h-4.3zM147.6 353.8h4.3v4.3h-4.3zM148.0 353.2h4.3v4.3h-4.3zM148.4 352.7h4.3v4.3h-4.3zM148.9 352.1h4.3v4.3h-4.3zM149.3 351.5h4.3v4.3h-4.3zM149.7 351.0h4.3v4.3h-4.3zM150.2 350.4h4.3v4.3h-4.3zM150.6 349.9h4.3v4.3h-4.3zM151.0 349.3h4.3v4.3h-4.3zM151.5 348.8h4.3v4.3h-4.3zM151.9 348.2h4.3v4.3h-4.3zM152.3 347.7h4.3v4.3h-4.3zM152.7 347.1h4.3v4.3h-4.3zM153.2 346.6h4.3v4.3h-4.3zM153.6 346.0h4.3v4.3h-4.3zM154.0 345.5h4.3v4.3h-4.3zM154.5 344.9h4.3v4.3h-4.3zM154.9 344.4h4.3v4.3h-4.3zM155.3 343.8h4.3v4.3h-4.3zM155.7 343.2h4.3v4.3h-4.3zM156.2 342.7h4.3v4.3h-4.3zM156.6 342.1h4.3v4.3h-4.3zM157.0 341.6h4.3v4.3h-4.3zM157.5 341.0h4.3v4.3h-4.3zM157.9 340.5h4.3v4.3h-4.3zM158.3 339.9h4.3v4.3h-4.3zM158.8 339.4h4.3v4.3h-4.3zM159.2 338.8h4.3v4.3h-4.3zM159.6 338.3h4.3v4.3h-4.3zM160.0 337.7h4.3v4.3h-4.3zM160.5 337.2h4.3v4.3h-4.3zM160.9 336.6h4.3v4.3h-4.3zM161.3 336.1h4.3v4.3h-4.3zM161.8 335.5h4.3v4.3h-4.3zM162.2 335.0h4.3v4.3h-4.3zM162.6 334.4h4.3v4.3h-4.3zM163.1 333.8h4.3v4.3h-4.3zM163.5 333.3h4.3v4.3h-4.3zM163.9 332.7h4.3v4.3h-4.3zM164.3 332.2h4.3v4.3h-4.3zM164.8 331.6h4.3v4.3h-4.3zM165.2 331.1h4.3v4.3h-4.3zM165.6 330.5h4.3v4.3h-4.3zM166.1 330.0h4.3v4.3h-4.3zM166.5 329.4h4.3v4.3h-4.3zM166.9 328.9h4.3v4.3h-4.3zM167.4 328.3h4.3v4.3h-4.3zM167.8 327.8h4.3v4.3h-4.3zM168.2 327.2h4.3v4.3h-4.3zM168.6 326.7h4.3v4.3h-4.3zM169.1 326.1h4.3v4.3h-4.3zM169.5 325.6h4.3v4.3h-4.3zM169.9 325.0h4.3v4.3h-4.3zM170.4 324.5h4.3v4.3h-4.3zM170.8 323.9h4.3v4.3h-4.3zM171.2 323.3h4.3v4.3h-4.3zM171.7 322.8h4.3v4.3h-4.3zM172.1 322.2h4.3v4.3h-4.3zM172.5 321.7h4.3v4.3h-4.3zM172.9 321.1h4.3v4.3h-4.3zM173.4 320.6h4.3v4.3h-4.3zM173.8 320.0h4.3v4.3h-4.3zM174.2 319.5h4.3v4.3h-4.3zM174.7 318.9h4.3v4.3h-4.3zM175.1 318.4h4.3v4.3h-4.3zM175.5 317.8h4.3v4.3h-4.3zM176.0 317.3h4.3v4.3h-4.3zM176.4 316.7h4.3v4.3h-4.3zM176.8 316.2h4.3v4.3h-4.3zM177.2 315.6h4.3v4.3h-4.3zM177.7 315.1h4.3v4.3h-4.3zM178.1 314.5h4.3v4.3h-4.3zM178.5 314.0h4.3v4.3h-4.3zM179.0 313.4h4.3v4.3h-4.3zM179.4 312.9h4.3v4.3h-4.3zM179.8 312.3h4.3v4.3h-4.3zM180.3 311.7h4.3v4.3h-4.3zM180.7 311.2h4.3v4.3h-4.3zM181.1 310.6h4.3v4.3h-4.3zM181.6 310.1h4.3v4.3h-4.3zM182.0 309.5h4.3v4.3h-4.3zM182.4 309.0h4.3v4.3h-4.3zM182.8 308.4h4.3v4.3h-4.3zM183.3 307.9h4.3v4.3h-4.3zM183.7 307.3h4.3v4.3h-4.3zM184.1 306.8h4.3v4.3h-4.3zM184.6 306.2h4.3v4.3h-4.3zM185.0 305.7h4.3v4.3h-4.3zM185.4 305.1h4.3v4.3h-4.3zM185.9 304.6h4.3v4.3h-4.3zM186.3 304.0h4.3v4.3h-4.3zM186.7 303.5h4.3v4.3h-4.3zM187.2 302.9h4.3v4.3h-4.3zM187.6 302.4h4.3v4.3h-4.3zM188.0 301.8h4.3v4.3h-4.3zM188.4 301.3h4.3v4.3h-4.3zM188.9 300.7h4.3v4.3h-4.3zM189.3 300.2h4.3v4.3h-4.3zM189.7 299.6h4.3v4.3h-4.3zM190.2 299.0h4.3v4.3h-4.3zM190.6 298.5h4.3v4.3h-4.3zM191.0 297.9h4.3v4.3h-4.3zM191.5 297.4h4.3v4.3h-4.3zM191.9 296.8h4.3v4.3h-4.3zM192.3 296.3h4.3v4.3h-4.3zM192.7 295.7h4.3v4.3h-4.3zM193.2 295.2h4.3v4.3h-4.3zM193.6 294.6h4.3v4.3h-4.3zM194.0 294.1h4.3v4.3h-4.3zM194.5 293.5h4.3v4.3h-4.3zM194.9 293.0h4.3v4.3h-4.3zM195.3 292.4h4.3v4.3h-4.3zM195.8 291.9h4.3v4.3h-4.3zM196.2 291.3h4.3v4.3h-4.3zM196.6 290.8h4.3v4.3h-4.3zM197.1 290.2h4.3v4.3h-4.3zM197.5 289.7h4.3v4.3h-4.3zM197.9 289.1h4.3v4.3h-4.3zM198.3 288.6h4.3v4.3h-4.3zM198.8 288.0h4.3v4.3h-4.3zM199.2 287.5h4.3v4.3h-4.3zM199.6 286.9h4.3v4.3h-4.3zM200.1 286.3h4.3v4.3h-4.3zM200.5 285.8h4.3v4.3h-4.3zM200.9 285.2h4.3v4.3h-4.3zM201.4 284.7h4.3v4.3h-4.3zM201.8 284.1h4.3v4.3h-4.3zM202.2 283.6h4.3v4.3h-4.3zM202.7 283.0h4.3v4.3h-4.3zM203.1 282.5h4.3v4.3h-4.3zM203.5 281.9h4.3v4.3h-4.3zM203.9 281.4h4.3v4.3h-4.3zM204.4 280.8h4.3v4.3h-4.3zM204.8 280.3h4.3v4.3h-4.3zM205.2 279.7h4.3v4.3h-4.3zM205.7 279.2h4.3v4.3h-4.3zM206.1 278.6h4.3v4.3h-4.3zM206.5 278.1h4.3v4.3h-4.3zM207.0 277.5h4.3v4.3h-4.3zM207.4 277.0h4.3v4.3h-4.3zM207.8 276.4h4.3v4.3h-4.3zM208.3 275.9h4.3v4.3h-4.3zM208.7 275.3h4.3v4.3h-4.3zM209.1 274.8h4.3v4.3h-4.3zM209.5 274.2h4.3v4.3h-4.3zM210.0 273.6h4.3v4.3h-4.3zM210.4 273.1h4.3v4.3h-4.3zM210.8 272.5h4.3v4.3h-4.3zM211.3 272.0h4.3v4.3h-4.3zM211.7 271.4h4.3v4.3h-4.3zM212.1 270.9h4.3v4.3h-4.3zM212.6 270.3h4.3v4.3h-4.3zM213.0 269.8h4.3v4.3h-4.3zM213.4 269.2h4.3v4.3h-4.3zM213.9 268.7h4.3v4.3h-4.3zM214.3 268.1h4.3v4.3h-4.3zM214.7 267.6h4.3v4.3h-4.3zM215.1 267.0h4.3v4.3h-4.3zM215.6 266.5h4.3v4.3h-4.3zM216.0 265.9h4.3v4.3h-4.3zM216.4 265.4h4.3v4.3h-4.3zM216.9 264.8h4.3v4.3h-4.3zM217.3 264.3h4.3v4.3h-4.3zM217.7 263.7h4.3v4.3h-4.3zM218.2 263.2h4.3v4.3h-4.3zM218.6 262.6h4.3v4.3h-4.3zM219.0 262.1h4.3v4.3h-4.3zM219.5 261.5h4.3v4.3h-4.3zM219.9 260.9h4.3v4.3h-4.3zM220.3 260.4h4.3v4.3h-4.3zM220.7 259.8h4.3v4.3h-4.3zM221.2 259.3h4.3v4.3h-4.3zM221.6 258.7h4.3v4.3h-4.3zM222.0 258.2h4.3v4.3h-4.3zM222.5 257.6h4.3v4.3h-4.3zM222.9 257.1h4.3v4.3h-4.3zM223.3 256.5h4.3v4.3h-4.3zM223.8 256.0h4.3v4.3h-4.3zM224.2 255.4h4.3v4.3h-4.3zM224.6 254.9h4.3v4.3h-4.3zM225.0 254.3h4.3v4.3h-4.3zM225.5 253.8h4.3v4.3h-4.3zM225.9 253.2h4.3v4.3h-4.3zM226.3 252.7h4.3v4.3h-4.3zM226.8 252.1h4.3v4.3h-4.3zM227.2 251.6h4.3v4.3h-4.3zM227.6 251.0h4.3v4.3h-4.3zM228.1 250.5h4.3v4.3h-4.3zM228.5 249.9h4.3v4.3h-4.3zM228.9 249.3h4.3v4.3h-4.3zM229.4 248.8h4.3v4.3h-4.3zM229.8 248.2h4.3v4.3h-4.3zM230.2 247.7h4.3v4.3h-4.3zM230.6 247.1h4.3v4.3h-4.3zM231.1 246.6h4.3v4.3h-4.3zM231.5 246.0h4.3v4.3h-4.3zM231.9 245.5h4.3v4.3h-4.3zM232.4 244.9h4.3v4.3h-4.3zM232.8 244.4h4.3v4.3h-4.3zM233.2 243.8h4.3v4.3h-4.3zM233.7 243.3h4.3v4.3h-4.3zM234.1 242.7h4.3v4.3h-4.3zM234.5 242.2h4.3v4.3h-4.3zM234.9 241.6h4.3v4.3h-4.3zM235.4 241.1h4.3v4.3h-4.3zM235.8 240.5h4.3v4.3h-4.3zM236.2 240.0h4.3v4.3h-4.3zM236.7 239.4h4.3v4.3h-4.3zM237.1 238.8h4.3v4.3h-4.3zM237.5 238.3h4.3v4.3h-4.3zM238.0 237.7h4.3v4.3h-4.3zM238.4 237.2h4.3v4.3h-4.3zM238.8 236.6h4.3v4.3h-4.3zM239.2 236.1h4.3v4.3h-4.3zM239.7 235.5h4.3v4.3h-4.3zM240.1 235.0h4.3v4.3h-4.3zM240.5 234.4h4.3v4.3h-4.3zM241.0 233.9h4.3v4.3h-4.3zM241.4 233.3h4.3v4.3h-4.3zM241.8 232.8h4.3v4.3h-4.3zM242.3 232.2h4.3v4.3h-4.3zM242.7 231.7h4.3v4.3h-4.3zM243.1 231.1h4.3v4.3h-4.3zM243.5 230.6h4.3v4.3h-4.3zM244.0 230.0h4.3v4.3h-4.3zM244.4 229.5h4.3v4.3h-4.3zM244.8 228.9h4.3v4.3h-4.3zM245.3 228.3h4.3v4.3h-4.3zM245.7 227.8h4.3v4.3h-4.3zM246.1 227.2h4.3v4.3h-4.3zM246.5 226.7h4.3v4.3h-4.3zM247.0 226.1h4.3v4.3h-4.3zM247.4 225.6h4.3v4.3h-4.3zM247.8 225.0h4.3v4.3h-4.3zM248.3 224.5h4.3v4.3h-4.3zM248.7 223.9h4.3v4.3h-4.3zM249.1 223.4h4.3v4.3h-4.3zM249.6 222.8h4.3v4.3h-4.3zM250.0 222.3h4.3v4.3h-4.3zM250.4 221.7h4.3v4.3h-4.3zM250.8 221.2h4.3v4.3h-4.3zM251.3 220.6h4.3v4.3h-4.3zM251.7 220.0h4.3v4.3h-4.3zM252.1 219.5h4.3v4.3h-4.3zM252.6 218.9h4.3v4.3h-4.3zM253.0 218.4h4.3v4.3h-4.3zM253.4 217.8h4.3v4.3h-4.3zM253.8 217.3h4.3v4.3h-4.3zM254.3 216.7h4.3v4.3h-4.3zM254.7 216.2h4.3v4.3h-4.3zM255.1 215.6h4.3v4.3h-4.3zM255.6 215.1h4.3v4.3h-4.3zM256.0 214.5h4.3v4.3h-4.3zM256.4 214.0h4.3v4.3h-4.3zM256.8 213.4h4.3v4.3h-4.3zM257.3 212.9h4.3v4.3h-4.3zM257.7 212.3h4.3v4.3h-4.3zM258.1 211.7h4.3v4.3h-4.3zM258.6 211.2h4.3v4.3h-4.3zM259.0 210.6h4.3v4.3h-4.3zM259.4 210.1h4.3v4.3h-4.3zM259.9 209.5h4.3v4.3h-4.3zM260.3 209.0h4.3v4.3h-4.3zM260.7 208.4h4.3v4.3h-4.3zM261.1 207.9h4.3v4.3h-4.3zM261.6 207.3h4.3v4.3h-4.3zM262.0 206.8h4.3v4.3h-4.3zM262.4 206.2h4.3v4.3h-4.3zM262.9 205.7h4.3v4.3h-4.3zM263.3 205.1h4.3v4.3h-4.3zM263.7 204.5h4.3v4.3h-4.3zM264.1 204.0h4.3v4.3h-4.3zM264.6 203.4h4.3v4.3h-4.3zM265.0 202.9h4.3v4.3h-4.3zM265.4 202.3h4.3v4.3h-4.3zM265.8 201.8h4.3v4.3h-4.3zM266.3 201.2h4.3v4.3h-4.3zM266.7 200.7h4.3v4.3h-4.3zM267.1 200.1h4.3v4.3h-4.3zM267.6 199.6h4.3v4.3h-4.3zM268.0 199.0h4.3v4.3h-4.3zM268.4 198.5h4.3v4.3h-4.3zM268.8 197.9h4.3v4.3h-4.3zM269.3 197.3h4.3v4.3h-4.3zM269.7 196.8h4.3v4.3h-4.3zM270.1 196.2h4.3v4.3h-4.3zM270.6 195.7h4.3v4.3h-4.3zM271.0 195.1h4.3v4.3h-4.3zM271.4 194.6h4.3v4.3h-4.3zM271.8 194.0h4.3v4.3h-4.3zM272.3 193.5h4.3v4.3h-4.3zM272.7 192.9h4.3v4.3h-4.3zM273.1 192.4h4.3v4.3h-4.3zM273.6 191.8h4.3v4.3h-4.3zM274.0 191.2h4.3v4.3h-4.3zM274.4 190.7h4.3v4.3h-4.3zM274.8 190.1h4.3v4.3h-4.3zM275.3 189.6h4.3v4.3h-4.3zM275.7 189.0h4.3v4.3h-4.3zM276.1 188.5h4.3v4.3h-4.3zM276.5 187.9h4.3v4.3h-4.3zM277.0 187.4h4.3v4.3h-4.3zM277.4 186.8h4.3v4.3h-4.3zM277.8 186.3h4.3v4.3h-4.3zM278.3 185.7h4.3v4.3h-4.3zM278.7 185.1h4.3v4.3h-4.3zM279.1 184.6h4.3v4.3h-4.3zM279.5 184.0h4.3v4.3h-4.3zM280.0 183.5h4.3v4.3h-4.3zM280.4 182.9h4.3v4.3h-4.3zM280.8 182.4h4.3v4.3h-4.3zM281.2 181.8h4.3v4.3h-4.3zM281.7 181.3h4.3v4.3h-4.3zM282.1 180.7h4.3v4.3h-4.3zM282.5 180.1h4.3v4.3h-4.3zM282.9 179.6h4.3v4.3h-4.3zM283.4 179.0h4.3v4.3h-4.3zM283.8 178.5h4.3v4.3h-4.3zM284.2 177.9h4.3v4.3h-4.3zM284.7 177.4h4.3v4.3h-4.3zM285.1 176.8h4.3v4.3h-4.3zM285.5 176.3h4.3v4.3h-4.3zM285.9 175.7h4.3v4.3h-4.3zM286.4 175.1h4.3v4.3h-4.3zM286.8 174.6h4.3v4.3h-4.3zM287.2 174.0h4.3v4.3h-4.3zM287.6 173.5h4.3v4.3h-4.3zM288.1 172.9h4.3v4.3h-4.3zM288.5 172.4h4.3v4.3h-4.3zM288.9 171.8h4.3v4.3h-4.3zM289.3 171.3h4.3v4.3h-4.3zM289.8 170.7h4.3v4.3h-4.3zM290.2 170.1h4.3v4.3h-4.3zM290.6 169.6h4.3v4.3h-4.3zM291.0 169.0h4.3v4.3h-4.3zM291.5 168.5h4.3v4.3h-4.3zM291.9 167.9h4.3v4.3h-4.3zM292.3 167.4h4.3v4.3h-4.3zM292.7 166.8h4.3v4.3h-4.3zM293.2 166.3h4.3v4.3h-4.3zM293.6 165.7h4.3v4.3h-4.3zM294.0 165.1h4.3v4.3h-4.3zM294.5 164.6h4.3v4.3h-4.3zM294.9 164.0h4.3v4.3h-4.3zM295.3 163.5h4.3v4.3h-4.3zM295.7 162.9h4.3v4.3h-4.3zM296.2 162.4h4.3v4.3h-4.3zM296.6 161.8h4.3v4.3h-4.3zM297.0 161.2h4.3v4.3h-4.3zM297.4 160.7h4.3v4.3h-4.3zM297.9 160.1h4.3v4.3h-4.3zM298.3 159.6h4.3v4.3h-4.3zM298.7 159.0h4.3v4.3h-4.3zM299.1 158.5h4.3v4.3h-4.3zM299.6 157.9h4.3v4.3h-4.3zM300.1 157.4h4.3v4.3h-4.3zM463.5 223.8h4.3v4.3h-4.3zM464.0 224.1h4.3v4.3h-4.3zM464.2 223.4h4.3v4.3h-4.3zM464.5 222.8h4.3v4.3h-4.3zM464.7 222.1h4.3v4.3h-4.3zM464.9 221.4h4.3v4.3h-4.3zM465.1 220.7h4.3v4.3h-4.3zM465.2 220.1h4.3v4.3h-4.3zM465.4 219.4h4.3v4.3h-4.3zM465.6 218.7h4.3v4.3h-4.3zM465.7 218.0h4.3v4.3h-4.3zM465.9 217.3h4.3v4.3h-4.3zM466.1 216.6h4.3v4.3h-4.3zM466.2 216.0h4.3v4.3h-4.3zM466.3 215.3h4.3v4.3h-4.3zM466.5 214.6h4.3v4.3h-4.3zM466.6 213.9h4.3v4.3h-4.3zM466.7 213.2h4.3v4.3h-4.3zM466.9 212.5h4.3v4.3h-4.3zM467.0 211.8h4.3v4.3h-4.3zM467.1 211.1h4.3v4.3h-4.3zM467.2 210.4h4.3v4.3h-4.3zM467.3 209.7h4.3v4.3h-4.3zM467.5 209.0h4.3v4.3h-4.3zM467.6 208.3h4.3v4.3h-4.3zM467.7 207.6h4.3v4.3h-4.3zM467.8 206.9h4.3v4.3h-4.3zM467.9 206.3h4.3v4.3h-4.3zM468.0 205.6h4.3v4.3h-4.3zM468.1 204.9h4.3v4.3h-4.3zM468.2 204.2h4.3v4.3h-4.3zM468.3 203.5h4.3v4.3h-4.3zM468.4 202.8h4.3v4.3h-4.3zM468.5 202.1h4.3v4.3h-4.3zM468.6 201.4h4.3v4.3h-4.3zM468.7 200.7h4.3v4.3h-4.3zM468.8 200.0h4.3v4.3h-4.3zM468.9 199.3h4.3v4.3h-4.3zM469.0 198.6h4.3v4.3h-4.3zM469.1 197.9h4.3v4.3h-4.3zM469.2 197.2h4.3v4.3h-4.3zM469.3 196.5h4.3v4.3h-4.3zM469.4 195.8h4.3v4.3h-4.3zM469.5 195.1h4.3v4.3h-4.3zM469.6 194.4h4.3v4.3h-4.3zM469.7 193.7h4.3v4.3h-4.3zM469.8 193.0h4.3v4.3h-4.3zM469.9 192.3h4.3v4.3h-4.3zM470.0 191.6h4.3v4.3h-4.3zM470.1 190.9h4.3v4.3h-4.3zM470.3 190.2h4.3v4.3h-4.3zM470.4 189.6h4.3v4.3h-4.3zM470.5 188.9h4.3v4.3h-4.3zM470.6 188.2h4.3v4.3h-4.3zM470.7 187.5h4.3v4.3h-4.3zM470.8 186.8h4.3v4.3h-4.3zM470.9 186.1h4.3v4.3h-4.3zM471.0 185.4h4.3v4.3h-4.3zM471.1 184.7h4.3v4.3h-4.3zM471.3 184.0h4.3v4.3h-4.3zM471.4 183.3h4.3v4.3h-4.3zM471.5 182.6h4.3v4.3h-4.3zM471.7 181.9h4.3v4.3h-4.3zM471.8 181.2h4.3v4.3h-4.3zM471.9 180.5h4.3v4.3h-4.3zM472.1 179.9h4.3v4.3h-4.3zM472.2 179.2h4.3v4.3h-4.3zM472.4 178.5h4.3v4.3h-4.3zM472.6 177.8h4.3v4.3h-4.3zM472.7 177.1h4.3v4.3h-4.3zM472.9 176.4h4.3v4.3h-4.3zM473.1 175.8h4.3v4.3h-4.3zM473.3 175.1h4.3v4.3h-4.3zM473.5 174.4h4.3v4.3h-4.3zM473.7 173.8h4.3v4.3h-4.3zM474.0 173.1h4.3v4.3h-4.3zM474.2 172.4h4.3v4.3h-4.3zM474.4 171.8h4.3v4.3h-4.3zM474.7 171.1h4.3v4.3h-4.3zM474.9 170.4h4.3v4.3h-4.3zM475.2 169.8h4.3v4.3h-4.3zM475.5 169.2h4.3v4.3h-4.3zM475.8 168.5h4.3v4.3h-4.3zM476.1 167.9h4.3v4.3h-4.3zM476.4 167.2h4.3v4.3h-4.3zM476.7 166.6h4.3v4.3h-4.3zM477.0 166.0h4.3v4.3h-4.3zM477.4 165.4h4.3v4.3h-4.3zM477.7 164.8h4.3v4.3h-4.3zM478.1 164.2h4.3v4.3h-4.3zM478.4 163.6h4.3v4.3h-4.3zM478.8 163.0h4.3v4.3h-4.3zM479.2 162.4h4.3v4.3h-4.3zM479.6 161.8h4.3v4.3h-4.3zM479.9 161.2h4.3v4.3h-4.3zM480.3 160.6h4.3v4.3h-4.3zM480.7 160.0h4.3v4.3h-4.3zM481.2 159.5h4.3v4.3h-4.3zM481.6 158.9h4.3v4.3h-4.3zM482.0 158.3h4.3v4.3h-4.3zM482.4 157.8h4.3v4.3h-4.3zM482.8 157.2h4.3v4.3h-4.3zM483.3 156.7h4.3v4.3h-4.3zM483.7 156.1h4.3v4.3h-4.3zM484.2 155.6h4.3v4.3h-4.3zM484.6 155.0h4.3v4.3h-4.3zM485.1 154.5h4.3v4.3h-4.3zM485.5 153.9h4.3v4.3h-4.3zM486.0 153.4h4.3v4.3h-4.3zM486.4 152.9h4.3v4.3h-4.3zM486.9 152.4h4.3v4.3h-4.3zM487.4 151.8h4.3v4.3h-4.3zM487.8 151.3h4.3v4.3h-4.3zM488.3 150.8h4.3v4.3h-4.3zM488.8 150.3h4.3v4.3h-4.3zM489.3 149.7h4.3v4.3h-4.3zM489.7 149.2h4.3v4.3h-4.3zM490.2 148.7h4.3v4.3h-4.3zM490.7 148.2h4.3v4.3h-4.3zM491.2 147.7h4.3v4.3h-4.3zM491.7 147.2h4.3v4.3h-4.3zM492.2 146.7h4.3v4.3h-4.3zM492.7 146.2h4.3v4.3h-4.3zM493.1 145.7h4.3v4.3h-4.3zM493.6 145.2h4.3v4.3h-4.3zM494.1 144.7h4.3v4.3h-4.3zM494.6 144.1h4.3v4.3h-4.3zM495.1 143.6h4.3v4.3h-4.3zM495.6 143.1h4.3v4.3h-4.3zM496.1 142.6h4.3v4.3h-4.3zM496.6 142.1h4.3v4.3h-4.3zM497.1 141.6h4.3v4.3h-4.3zM497.5 141.1h4.3v4.3h-4.3zM498.0 140.6h4.3v4.3h-4.3zM498.5 140.1h4.3v4.3h-4.3zM499.0 139.6h4.3v4.3h-4.3zM499.5 139.1h4.3v4.3h-4.3zM500.0 138.6h4.3v4.3h-4.3zM500.5 138.1h4.3v4.3h-4.3zM500.9 137.5h4.3v4.3h-4.3zM501.4 137.0h4.3v4.3h-4.3zM501.9 136.5h4.3v4.3h-4.3zM502.4 136.0h4.3v4.3h-4.3zM502.9 135.5h4.3v4.3h-4.3zM503.3 135.0h4.3v4.3h-4.3zM503.8 134.5h4.3v4.3h-4.3zM504.3 133.9h4.3v4.3h-4.3zM504.8 133.4h4.3v4.3h-4.3zM505.2 132.9h4.3v4.3h-4.3zM505.7 132.4h4.3v4.3h-4.3zM506.2 131.9h4.3v4.3h-4.3zM506.7 131.3h4.3v4.3h-4.3zM507.1 130.8h4.3v4.3h-4.3zM507.6 130.3h4.3v4.3h-4.3zM508.1 129.8h4.3v4.3h-4.3zM508.5 129.3h4.3v4.3h-4.3zM509.0 128.7h4.3v4.3h-4.3zM509.5 128.2h4.3v4.3h-4.3zM509.9 127.7h4.3v4.3h-4.3zM510.4 127.2h4.3v4.3h-4.3zM510.9 126.6h4.3v4.3h-4.3zM511.3 126.1h4.3v4.3h-4.3zM511.8 125.6h4.3v4.3h-4.3zM512.3 125.0h4.3v4.3h-4.3zM512.7 124.5h4.3v4.3h-4.3zM513.2 124.0h4.3v4.3h-4.3zM513.7 123.4h4.3v4.3h-4.3zM514.1 122.9h4.3v4.3h-4.3zM514.6 122.4h4.3v4.3h-4.3zM515.0 121.9h4.3v4.3h-4.3zM515.5 121.3h4.3v4.3h-4.3zM516.0 120.8h4.3v4.3h-4.3zM516.4 120.3h4.3v4.3h-4.3zM516.9 119.7h4.3v4.3h-4.3zM517.3 119.2h4.3v4.3h-4.3zM517.8 118.6h4.3v4.3h-4.3zM518.2 118.1h4.3v4.3h-4.3zM518.7 117.6h4.3v4.3h-4.3zM519.1 117.0h4.3v4.3h-4.3zM519.6 116.5h4.3v4.3h-4.3zM520.0 116.0h4.3v4.3h-4.3zM520.5 115.4h4.3v4.3h-4.3zM521.0 114.9h4.3v4.3h-4.3zM521.4 114.3h4.3v4.3h-4.3zM521.9 113.8h4.3v4.3h-4.3zM522.3 113.3h4.3v4.3h-4.3zM522.8 112.7h4.3v4.3h-4.3zM523.2 112.2h4.3v4.3h-4.3zM523.7 111.6h4.3v4.3h-4.3zM524.1 111.1h4.3v4.3h-4.3zM524.5 110.6h4.3v4.3h-4.3zM525.0 110.0h4.3v4.3h-4.3zM525.4 109.5h4.3v4.3h-4.3zM525.9 108.9h4.3v4.3h-4.3zM526.3 108.4h4.3v4.3h-4.3zM526.8 107.8h4.3v4.3h-4.3zM527.2 107.3h4.3v4.3h-4.3zM527.7 106.7h4.3v4.3h-4.3zM528.1 106.2h4.3v4.3h-4.3zM528.6 105.6h4.3v4.3h-4.3zM528.6 105.6h4.3v4.3h-4.3zM528.7 106.3h4.3v4.3h-4.3zM528.6 107.0h4.3v4.3h-4.3zM528.5 107.6h4.3v4.3h-4.3zM528.3 108.3h4.3v4.3h-4.3zM528.2 109.0h4.3v4.3h-4.3zM528.1 109.7h4.3v4.3h-4.3zM528.0 110.4h4.3v4.3h-4.3zM527.8 111.1h4.3v4.3h-4.3zM527.7 111.8h4.3v4.3h-4.3zM527.6 112.5h4.3v4.3h-4.3zM527.5 113.2h4.3v4.3h-4.3zM527.4 113.9h4.3v4.3h-4.3zM527.2 114.6h4.3v4.3h-4.3zM527.1 115.2h4.3v4.3h-4.3zM527.0 115.9h4.3v4.3h-4.3zM526.9 116.6h4.3v4.3h-4.3zM526.8 117.3h4.3v4.3h-4.3zM526.7 118.0h4.3v4.3h-4.3zM526.6 118.7h4.3v4.3h-4.3zM526.5 119.4h4.3v4.3h-4.3zM526.4 120.1h4.3v4.3h-4.3zM526.3 120.8h4.3v4.3h-4.3zM526.2 121.5h4.3v4.3h-4.3zM526.1 122.2h4.3v4.3h-4.3zM526.0 122.9h4.3v4.3h-4.3zM525.9 123.6h4.3v4.3h-4.3zM525.8 124.3h4.3v4.3h-4.3zM525.7 124.9h4.3v4.3h-4.3zM525.6 125.6h4.3v4.3h-4.3zM525.5 126.3h4.3v4.3h-4.3zM525.4 127.0h4.3v4.3h-4.3zM525.3 127.7h4.3v4.3h-4.3zM525.2 128.4h4.3v4.3h-4.3zM525.1 129.1h4.3v4.3h-4.3zM525.0 129.8h4.3v4.3h-4.3zM524.9 130.5h4.3v4.3h-4.3zM524.8 131.2h4.3v4.3h-4.3zM524.7 131.9h4.3v4.3h-4.3zM524.6 132.6h4.3v4.3h-4.3zM524.5 133.3h4.3v4.3h-4.3zM524.5 134.0h4.3v4.3h-4.3zM524.4 134.7h4.3v4.3h-4.3zM524.3 135.4h4.3v4.3h-4.3zM524.2 136.1h4.3v4.3h-4.3zM524.1 136.8h4.3v4.3h-4.3zM524.0 137.5h4.3v4.3h-4.3zM523.9 138.2h4.3v4.3h-4.3zM523.8 138.9h4.3v4.3h-4.3zM523.8 139.5h4.3v4.3h-4.3zM523.7 140.2h4.3v4.3h-4.3zM523.6 140.9h4.3v4.3h-4.3zM523.5 141.6h4.3v4.3h-4.3zM523.4 142.3h4.3v4.3h-4.3zM523.3 143.0h4.3v4.3h-4.3zM523.2 143.7h4.3v4.3h-4.3zM523.1 144.4h4.3v4.3h-4.3zM523.1 145.1h4.3v4.3h-4.3zM523.0 145.8h4.3v4.3h-4.3zM522.9 146.5h4.3v4.3h-4.3zM522.8 147.2h4.3v4.3h-4.3zM522.7 147.9h4.3v4.3h-4.3zM522.6 148.6h4.3v4.3h-4.3zM522.5 149.3h4.3v4.3h-4.3zM522.4 150.0h4.3v4.3h-4.3zM522.4 150.7h4.3v4.3h-4.3zM522.3 151.4h4.3v4.3h-4.3zM522.2 152.1h4.3v4.3h-4.3zM522.1 152.8h4.3v4.3h-4.3zM522.0 153.5h4.3v4.3h-4.3zM521.9 154.2h4.3v4.3h-4.3zM521.8 154.8h4.3v4.3h-4.3zM521.7 155.5h4.3v4.3h-4.3zM521.6 156.2h4.3v4.3h-4.3zM521.5 156.9h4.3v4.3h-4.3zM521.4 157.6h4.3v4.3h-4.3zM521.3 158.3h4.3v4.3h-4.3zM521.2 159.0h4.3v4.3h-4.3zM521.1 159.7h4.3v4.3h-4.3zM521.0 160.4h4.3v4.3h-4.3zM520.9 161.1h4.3v4.3h-4.3zM520.8 161.8h4.3v4.3h-4.3zM520.7 162.5h4.3v4.3h-4.3zM520.6 163.2h4.3v4.3h-4.3zM520.5 163.9h4.3v4.3h-4.3zM520.4 164.6h4.3v4.3h-4.3zM520.3 165.3h4.3v4.3h-4.3zM520.2 166.0h4.3v4.3h-4.3zM520.1 166.6h4.3v4.3h-4.3zM520.0 167.3h4.3v4.3h-4.3zM519.9 168.0h4.3v4.3h-4.3zM519.8 168.7h4.3v4.3h-4.3zM519.7 169.4h4.3v4.3h-4.3zM519.6 170.1h4.3v4.3h-4.3zM519.4 170.8h4.3v4.3h-4.3zM519.3 171.5h4.3v4.3h-4.3zM519.2 172.2h4.3v4.3h-4.3zM519.1 172.9h4.3v4.3h-4.3zM519.0 173.6h4.3v4.3h-4.3zM518.8 174.2h4.3v4.3h-4.3zM518.7 174.9h4.3v4.3h-4.3zM518.6 175.6h4.3v4.3h-4.3zM518.4 176.3h4.3v4.3h-4.3zM518.3 177.0h4.3v4.3h-4.3zM518.2 177.7h4.3v4.3h-4.3zM518.1 178.4h4.3v4.3h-4.3zM517.9 179.1h4.3v4.3h-4.3zM517.8 179.8h4.3v4.3h-4.3zM517.6 180.4h4.3v4.3h-4.3zM517.5 181.1h4.3v4.3h-4.3zM517.3 181.8h4.3v4.3h-4.3zM517.2 182.5h4.3v4.3h-4.3zM517.1 183.2h4.3v4.3h-4.3zM516.9 183.9h4.3v4.3h-4.3zM516.8 184.6h4.3v4.3h-4.3zM516.6 185.2h4.3v4.3h-4.3zM516.4 185.9h4.3v4.3h-4.3zM516.3 186.6h4.3v4.3h-4.3zM516.1 187.3h4.3v4.3h-4.3zM516.0 188.0h4.3v4.3h-4.3zM515.8 188.7h4.3v4.3h-4.3zM515.6 189.3h4.3v4.3h-4.3zM515.4 190.0h4.3v4.3h-4.3zM515.3 190.7h4.3v4.3h-4.3zM515.1 191.4h4.3v4.3h-4.3zM514.9 192.0h4.3v4.3h-4.3zM514.7 192.7h4.3v4.3h-4.3zM514.6 193.4h4.3v4.3h-4.3zM514.4 194.1h4.3v4.3h-4.3zM514.2 194.7h4.3v4.3h-4.3zM514.0 195.4h4.3v4.3h-4.3zM513.8 196.1h4.3v4.3h-4.3zM513.6 196.8h4.3v4.3h-4.3zM513.4 197.4h4.3v4.3h-4.3zM513.2 198.1h4.3v4.3h-4.3zM513.0 198.8h4.3v4.3h-4.3zM512.8 199.5h4.3v4.3h-4.3zM512.6 200.1h4.3v4.3h-4.3zM512.3 200.8h4.3v4.3h-4.3zM512.1 201.5h4.3v4.3h-4.3zM511.9 202.1h4.3v4.3h-4.3zM511.7 202.8h4.3v4.3h-4.3zM511.4 203.4h4.3v4.3h-4.3zM511.2 204.1h4.3v4.3h-4.3zM511.0 204.8h4.3v4.3h-4.3zM510.7 205.4h4.3v4.3h-4.3zM510.5 206.1h4.3v4.3h-4.3zM510.2 206.7h4.3v4.3h-4.3zM472.6 268.9h4.3v4.3h-4.3zM472.2 269.5h4.3v4.3h-4.3zM471.8 270.0h4.3v4.3h-4.3zM471.4 270.6h4.3v4.3h-4.3zM471.0 271.1h4.3v4.3h-4.3zM470.5 271.7h4.3v4.3h-4.3zM470.1 272.3h4.3v4.3h-4.3zM469.7 272.8h4.3v4.3h-4.3zM469.3 273.4h4.3v4.3h-4.3zM468.8 273.9h4.3v4.3h-4.3zM468.4 274.5h4.3v4.3h-4.3zM468.0 275.1h4.3v4.3h-4.3zM467.6 275.6h4.3v4.3h-4.3zM467.1 276.2h4.3v4.3h-4.3zM466.7 276.7h4.3v4.3h-4.3zM466.3 277.3h4.3v4.3h-4.3zM465.9 277.8h4.3v4.3h-4.3zM465.4 278.4h4.3v4.3h-4.3zM465.0 279.0h4.3v4.3h-4.3zM464.6 279.5h4.3v4.3h-4.3zM464.2 280.1h4.3v4.3h-4.3zM463.8 280.6h4.3v4.3h-4.3zM463.3 281.2h4.3v4.3h-4.3zM462.9 281.8h4.3v4.3h-4.3zM462.5 282.3h4.3v4.3h-4.3zM462.1 282.9h4.3v4.3h-4.3zM461.6 283.4h4.3v4.3h-4.3zM461.2 284.0h4.3v4.3h-4.3zM460.8 284.6h4.3v4.3h-4.3zM460.4 285.1h4.3v4.3h-4.3zM460.0 285.7h4.3v4.3h-4.3zM459.5 286.2h4.3v4.3h-4.3zM459.1 286.8h4.3v4.3h-4.3zM458.7 287.4h4.3v4.3h-4.3zM458.3 287.9h4.3v4.3h-4.3zM457.8 288.5h4.3v4.3h-4.3zM457.4 289.0h4.3v4.3h-4.3zM457.0 289.6h4.3v4.3h-4.3zM456.6 290.1h4.3v4.3h-4.3zM456.1 290.7h4.3v4.3h-4.3zM455.7 291.3h4.3v4.3h-4.3zM455.3 291.8h4.3v4.3h-4.3zM454.9 292.4h4.3v4.3h-4.3zM454.5 292.9h4.3v4.3h-4.3zM454.0 293.5h4.3v4.3h-4.3zM453.6 294.1h4.3v4.3h-4.3zM453.2 294.6h4.3v4.3h-4.3zM452.8 295.2h4.3v4.3h-4.3zM452.3 295.7h4.3v4.3h-4.3zM451.9 296.3h4.3v4.3h-4.3zM451.5 296.9h4.3v4.3h-4.3zM451.1 297.4h4.3v4.3h-4.3zM450.6 298.0h4.3v4.3h-4.3zM450.2 298.5h4.3v4.3h-4.3zM449.8 299.1h4.3v4.3h-4.3zM449.4 299.6h4.3v4.3h-4.3zM448.9 300.2h4.3v4.3h-4.3zM448.5 300.8h4.3v4.3h-4.3zM448.1 301.3h4.3v4.3h-4.3zM447.7 301.9h4.3v4.3h-4.3zM447.3 302.4h4.3v4.3h-4.3zM446.8 303.0h4.3v4.3h-4.3zM446.4 303.6h4.3v4.3h-4.3zM446.0 304.1h4.3v4.3h-4.3zM445.6 304.7h4.3v4.3h-4.3zM445.1 305.2h4.3v4.3h-4.3zM444.7 305.8h4.3v4.3h-4.3zM444.3 306.3h4.3v4.3h-4.3zM443.9 306.9h4.3v4.3h-4.3zM443.4 307.5h4.3v4.3h-4.3zM443.0 308.0h4.3v4.3h-4.3zM442.6 308.6h4.3v4.3h-4.3zM442.2 309.1h4.3v4.3h-4.3zM441.7 309.7h4.3v4.3h-4.3zM441.3 310.3h4.3v4.3h-4.3zM440.9 310.8h4.3v4.3h-4.3zM440.5 311.4h4.3v4.3h-4.3zM440.0 311.9h4.3v4.3h-4.3zM439.6 312.5h4.3v4.3h-4.3zM439.2 313.0h4.3v4.3h-4.3zM438.8 313.6h4.3v4.3h-4.3zM438.3 314.2h4.3v4.3h-4.3zM437.9 314.7h4.3v4.3h-4.3zM437.5 315.3h4.3v4.3h-4.3zM437.1 315.8h4.3v4.3h-4.3zM436.6 316.4h4.3v4.3h-4.3zM436.2 316.9h4.3v4.3h-4.3zM435.8 317.5h4.3v4.3h-4.3zM435.4 318.1h4.3v4.3h-4.3zM434.9 318.6h4.3v4.3h-4.3zM434.5 319.2h4.3v4.3h-4.3zM434.1 319.7h4.3v4.3h-4.3zM433.6 320.3h4.3v4.3h-4.3zM433.2 320.8h4.3v4.3h-4.3zM432.8 321.4h4.3v4.3h-4.3zM432.4 321.9h4.3v4.3h-4.3zM431.9 322.5h4.3v4.3h-4.3zM431.5 323.1h4.3v4.3h-4.3zM431.1 323.6h4.3v4.3h-4.3zM430.6 324.2h4.3v4.3h-4.3zM430.2 324.7h4.3v4.3h-4.3zM429.8 325.3h4.3v4.3h-4.3zM429.4 325.8h4.3v4.3h-4.3zM428.9 326.4h4.3v4.3h-4.3zM428.5 326.9h4.3v4.3h-4.3zM428.1 327.5h4.3v4.3h-4.3zM427.6 328.0h4.3v4.3h-4.3zM427.2 328.6h4.3v4.3h-4.3zM426.8 329.2h4.3v4.3h-4.3zM426.4 329.7h4.3v4.3h-4.3zM425.9 330.3h4.3v4.3h-4.3zM425.5 330.8h4.3v4.3h-4.3zM425.1 331.4h4.3v4.3h-4.3zM424.6 331.9h4.3v4.3h-4.3zM424.2 332.5h4.3v4.3h-4.3zM423.8 333.0h4.3v4.3h-4.3zM423.3 333.6h4.3v4.3h-4.3zM422.9 334.1h4.3v4.3h-4.3zM422.5 334.7h4.3v4.3h-4.3zM422.1 335.2h4.3v4.3h-4.3zM421.6 335.8h4.3v4.3h-4.3zM421.2 336.3h4.3v4.3h-4.3zM420.8 336.9h4.3v4.3h-4.3zM420.3 337.4h4.3v4.3h-4.3zM419.9 338.0h4.3v4.3h-4.3zM419.5 338.6h4.3v4.3h-4.3zM419.0 339.1h4.3v4.3h-4.3zM418.6 339.7h4.3v4.3h-4.3zM418.2 340.2h4.3v4.3h-4.3zM417.7 340.8h4.3v4.3h-4.3zM417.3 341.3h4.3v4.3h-4.3zM416.9 341.9h4.3v4.3h-4.3zM416.4 342.4h4.3v4.3h-4.3zM416.0 343.0h4.3v4.3h-4.3zM415.6 343.5h4.3v4.3h-4.3zM415.1 344.1h4.3v4.3h-4.3zM414.7 344.6h4.3v4.3h-4.3zM414.2 345.2h4.3v4.3h-4.3zM413.8 345.7h4.3v4.3h-4.3zM413.4 346.3h4.3v4.3h-4.3zM412.9 346.8h4.3v4.3h-4.3zM412.5 347.4h4.3v4.3h-4.3zM412.1 347.9h4.3v4.3h-4.3zM411.6 348.4h4.3v4.3h-4.3zM411.2 349.0h4.3v4.3h-4.3zM410.8 349.5h4.3v4.3h-4.3zM410.3 350.1h4.3v4.3h-4.3zM409.9 350.6h4.3v4.3h-4.3zM409.4 351.2h4.3v4.3h-4.3zM409.0 351.7h4.3v4.3h-4.3zM408.6 352.3h4.3v4.3h-4.3zM408.1 352.8h4.3v4.3h-4.3zM407.7 353.4h4.3v4.3h-4.3zM407.2 353.9h4.3v4.3h-4.3zM406.8 354.5h4.3v4.3h-4.3zM406.4 355.0h4.3v4.3h-4.3zM405.9 355.6h4.3v4.3h-4.3zM405.5 356.1h4.3v4.3h-4.3zM405.0 356.6h4.3v4.3h-4.3zM404.6 357.2h4.3v4.3h-4.3zM404.2 357.7h4.3v4.3h-4.3zM403.7 358.3h4.3v4.3h-4.3zM403.3 358.8h4.3v4.3h-4.3zM402.8 359.4h4.3v4.3h-4.3zM402.4 359.9h4.3v4.3h-4.3zM401.9 360.5h4.3v4.3h-4.3zM401.5 361.0h4.3v4.3h-4.3zM401.1 361.5h4.3v4.3h-4.3zM400.6 362.1h4.3v4.3h-4.3zM400.2 362.6h4.3v4.3h-4.3zM399.7 363.2h4.3v4.3h-4.3zM399.3 363.7h4.3v4.3h-4.3zM398.8 364.3h4.3v4.3h-4.3zM398.4 364.8h4.3v4.3h-4.3zM397.9 365.3h4.3v4.3h-4.3zM397.5 365.9h4.3v4.3h-4.3zM397.1 366.4h4.3v4.3h-4.3zM396.6 367.0h4.3v4.3h-4.3zM396.2 367.5h4.3v4.3h-4.3zM395.7 368.0h4.3v4.3h-4.3zM395.3 368.6h4.3v4.3h-4.3zM394.8 369.1h4.3v4.3h-4.3zM394.4 369.7h4.3v4.3h-4.3zM393.9 370.2h4.3v4.3h-4.3zM393.5 370.7h4.3v4.3h-4.3zM393.0 371.3h4.3v4.3h-4.3zM392.6 371.8h4.3v4.3h-4.3zM392.1 372.3h4.3v4.3h-4.3zM391.7 372.9h4.3v4.3h-4.3zM391.2 373.4h4.3v4.3h-4.3zM390.8 374.0h4.3v4.3h-4.3zM390.3 374.5h4.3v4.3h-4.3zM389.9 375.0h4.3v4.3h-4.3zM389.4 375.6h4.3v4.3h-4.3zM389.0 376.1h4.3v4.3h-4.3zM388.5 376.6h4.3v4.3h-4.3zM388.1 377.2h4.3v4.3h-4.3zM387.6 377.7h4.3v4.3h-4.3zM387.2 378.2h4.3v4.3h-4.3zM386.7 378.8h4.3v4.3h-4.3zM386.2 379.3h4.3v4.3h-4.3zM385.8 379.8h4.3v4.3h-4.3zM385.3 380.4h4.3v4.3h-4.3zM384.9 380.9h4.3v4.3h-4.3zM384.4 381.4h4.3v4.3h-4.3zM384.0 382.0h4.3v4.3h-4.3zM383.5 382.5h4.3v4.3h-4.3zM383.0 383.0h4.3v4.3h-4.3zM382.6 383.6h4.3v4.3h-4.3zM382.1 384.1h4.3v4.3h-4.3zM381.7 384.6h4.3v4.3h-4.3zM381.2 385.2h4.3v4.3h-4.3zM380.8 385.7h4.3v4.3h-4.3zM380.3 386.2h4.3v4.3h-4.3zM379.8 386.7h4.3v4.3h-4.3zM379.4 387.3h4.3v4.3h-4.3zM378.9 387.8h4.3v4.3h-4.3zM378.4 388.3h4.3v4.3h-4.3zM378.0 388.8h4.3v4.3h-4.3zM377.5 389.4h4.3v4.3h-4.3zM377.0 389.9h4.3v4.3h-4.3zM376.6 390.4h4.3v4.3h-4.3zM376.1 390.9h4.3v4.3h-4.3zM375.6 391.5h4.3v4.3h-4.3zM375.2 392.0h4.3v4.3h-4.3zM374.7 392.5h4.3v4.3h-4.3zM374.2 393.0h4.3v4.3h-4.3zM373.8 393.5h4.3v4.3h-4.3zM373.3 394.1h4.3v4.3h-4.3zM372.8 394.6h4.3v4.3h-4.3zM372.4 395.1h4.3v4.3h-4.3zM371.9 395.6h4.3v4.3h-4.3zM371.4 396.1h4.3v4.3h-4.3zM370.9 396.7h4.3v4.3h-4.3zM370.5 397.2h4.3v4.3h-4.3zM370.0 397.7h4.3v4.3h-4.3zM369.5 398.2h4.3v4.3h-4.3zM369.0 398.7h4.3v4.3h-4.3zM368.6 399.2h4.3v4.3h-4.3zM368.1 399.7h4.3v4.3h-4.3zM367.6 400.3h4.3v4.3h-4.3zM367.1 400.8h4.3v4.3h-4.3zM366.6 401.3h4.3v4.3h-4.3zM366.2 401.8h4.3v4.3h-4.3zM365.7 402.3h4.3v4.3h-4.3zM365.2 402.8h4.3v4.3h-4.3zM364.7 403.3h4.3v4.3h-4.3zM364.2 403.8h4.3v4.3h-4.3zM363.7 404.3h4.3v4.3h-4.3zM363.3 404.8h4.3v4.3h-4.3zM362.8 405.3h4.3v4.3h-4.3zM362.3 405.8h4.3v4.3h-4.3zM361.8 406.3h4.3v4.3h-4.3zM361.3 406.8h4.3v4.3h-4.3zM360.8 407.3h4.3v4.3h-4.3zM360.3 407.8h4.3v4.3h-4.3zM359.8 408.3h4.3v4.3h-4.3zM359.3 408.8h4.3v4.3h-4.3zM358.8 409.3h4.3v4.3h-4.3zM358.3 409.8h4.3v4.3h-4.3zM357.8 410.3h4.3v4.3h-4.3zM357.3 410.8h4.3v4.3h-4.3zM356.8 411.3h4.3v4.3h-4.3zM356.3 411.8h4.3v4.3h-4.3zM355.8 412.3h4.3v4.3h-4.3zM355.3 412.8h4.3v4.3h-4.3zM354.8 413.3h4.3v4.3h-4.3zM354.3 413.8h4.3v4.3h-4.3zM353.8 414.2h4.3v4.3h-4.3zM353.3 414.7h4.3v4.3h-4.3zM352.8 415.2h4.3v4.3h-4.3zM352.3 415.7h4.3v4.3h-4.3zM351.8 416.2h4.3v4.3h-4.3zM351.3 416.7h4.3v4.3h-4.3zM350.8 417.1h4.3v4.3h-4.3zM350.3 417.6h4.3v4.3h-4.3zM349.8 418.1h4.3v4.3h-4.3zM349.2 418.6h4.3v4.3h-4.3zM348.7 419.0h4.3v4.3h-4.3zM348.2 419.5h4.3v4.3h-4.3zM347.7 420.0h4.3v4.3h-4.3zM347.2 420.5h4.3v4.3h-4.3zM346.6 420.9h4.3v4.3h-4.3zM346.1 421.4h4.3v4.3h-4.3zM345.6 421.9h4.3v4.3h-4.3zM345.1 422.3h4.3v4.3h-4.3zM344.6 422.8h4.3v4.3h-4.3zM344.0 423.3h4.3v4.3h-4.3zM343.5 423.7h4.3v4.3h-4.3zM343.0 424.2h4.3v4.3h-4.3zM342.4 424.6h4.3v4.3h-4.3zM341.9 425.1h4.3v4.3h-4.3zM341.4 425.5h4.3v4.3h-4.3zM340.8 426.0h4.3v4.3h-4.3zM340.3 426.5h4.3v4.3h-4.3zM339.8 426.9h4.3v4.3h-4.3zM339.2 427.4h4.3v4.3h-4.3zM338.7 427.8h4.3v4.3h-4.3zM338.2 428.3h4.3v4.3h-4.3zM337.6 428.7h4.3v4.3h-4.3zM337.1 429.1h4.3v4.3h-4.3zM336.5 429.6h4.3v4.3h-4.3zM336.0 430.0h4.3v4.3h-4.3zM335.4 430.5h4.3v4.3h-4.3zM334.9 430.9h4.3v4.3h-4.3zM334.3 431.3h4.3v4.3h-4.3zM333.8 431.8h4.3v4.3h-4.3zM333.2 432.2h4.3v4.3h-4.3zM332.7 432.6h4.3v4.3h-4.3zM332.1 433.1h4.3v4.3h-4.3zM331.6 433.5h4.3v4.3h-4.3zM331.0 433.9h4.3v4.3h-4.3zM330.4 434.3h4.3v4.3h-4.3zM329.9 434.7h4.3v4.3h-4.3zM329.3 435.1h4.3v4.3h-4.3zM328.7 435.5h4.3v4.3h-4.3zM328.2 436.0h4.3v4.3h-4.3zM327.6 436.4h4.3v4.3h-4.3zM327.0 436.8h4.3v4.3h-4.3zM326.4 437.1h4.3v4.3h-4.3zM325.8 437.5h4.3v4.3h-4.3zM325.3 437.9h4.3v4.3h-4.3zM324.7 438.3h4.3v4.3h-4.3zM324.1 438.7h4.3v4.3h-4.3zM323.5 439.1h4.3v4.3h-4.3zM322.9 439.4h4.3v4.3h-4.3zM322.3 439.8h4.3v4.3h-4.3zM321.7 440.2h4.3v4.3h-4.3zM321.1 440.5h4.3v4.3h-4.3zM320.5 440.9h4.3v4.3h-4.3zM319.9 441.2h4.3v4.3h-4.3zM319.3 441.5h4.3v4.3h-4.3zM318.6 441.9h4.3v4.3h-4.3zM318.0 442.2h4.3v4.3h-4.3zM317.4 442.5h4.3v4.3h-4.3zM316.8 442.8h4.3v4.3h-4.3zM316.1 443.2h4.3v4.3h-4.3zM315.5 443.5h4.3v4.3h-4.3zM314.9 443.8h4.3v4.3h-4.3zM314.2 444.1h4.3v4.3h-4.3zM313.6 444.3h4.3v4.3h-4.3zM313.0 444.6h4.3v4.3h-4.3zM312.3 444.9h4.3v4.3h-4.3zM311.7 445.2h4.3v4.3h-4.3zM311.0 445.4h4.3v4.3h-4.3zM310.5 445.2h4.3v4.3h-4.3z" fill="#000"/>
<rect x="300.95" y="158.35" width="2.5" height="2.5" fill="#fff"/>
<path d="M510.2 208.5h3.3v3.3h-3.3zM509.2 211.2h3.3v3.3h-3.3zM508.0 213.9h3.3v3.3h-3.3zM506.9 216.6h3.3v3.3h-3.3zM505.6 219.2h3.3v3.3h-3.3zM504.3 221.8h3.3v3.3h-3.3zM503.0 224.4h3.3v3.3h-3.3zM501.7 226.9h3.3v3.3h-3.3zM500.2 229.5h3.3v3.3h-3.3zM498.8 232.0h3.3v3.3h-3.3zM497.3 234.5h3.3v3.3h-3.3zM495.8 237.0h3.3v3.3h-3.3zM494.3 239.4h3.3v3.3h-3.3zM492.7 241.9h3.3v3.3h-3.3zM491.1 244.3h3.3v3.3h-3.3zM489.5 246.7h3.3v3.3h-3.3zM487.9 249.1h3.3v3.3h-3.3zM486.2 251.5h3.3v3.3h-3.3zM484.6 253.9h3.3v3.3h-3.3zM482.9 256.2h3.3v3.3h-3.3zM481.2 258.6h3.3v3.3h-3.3zM479.5 260.9h3.3v3.3h-3.3zM477.7 263.3h3.3v3.3h-3.3zM476.0 265.6h3.3v3.3h-3.3zM474.3 267.9h3.3v3.3h-3.3z" fill="none" stroke="#000" stroke-width="1"/>
</g>
<path d="M78.2 8.8H668.9V449.3H78.2ZM78.20 449.3v7.5M78.20 8.8v-7.5M107.73 449.3v4M107.73 8.8v-4M137.27 449.3v7.5M137.27 8.8v-7.5M166.81 449.3v4M166.81 8.8v-4M196.34 449.3v7.5M196.34 8.8v-7.5M225.88 449.3v4M225.88 8.8v-4M255.41 449.3v7.5M255.41 8.8v-7.5M284.94 449.3v4M284.94 8.8v-4M314.48 449.3v7.5M314.48 8.8v-7.5M344.01 449.3v4M344.01 8.8v-4M373.55 449.3v7.5M373.55 8.8v-7.5M403.08 449.3v4M403.08 8.8v-4M432.62 449.3v7.5M432.62 8.8v-7.5M462.15 449.3v4M462.15 8.8v-4M491.69 449.3v7.5M491.69 8.8v-7.5M521.22 449.3v4M521.22 8.8v-4M550.76 449.3v7.5M550.76 8.8v-7.5M580.29 449.3v4M580.29 8.8v-4M609.83 449.3v7.5M609.83 8.8v-7.5M639.37 449.3v4M639.37 8.8v-4M668.90 449.3v7.5M668.90 8.8v-7.5M78.2 449.30h-7.5M668.9 449.30h7.5M78.2 430.95h-4M668.9 430.95h4M78.2 412.59h-7.5M668.9 412.59h7.5M78.2 394.24h-4M668.9 394.24h4M78.2 375.88h-7.5M668.9 375.88h7.5M78.2 357.53h-4M668.9 357.53h4M78.2 339.18h-7.5M668.9 339.18h7.5M78.2 320.82h-4M668.9 320.82h4M78.2 302.47h-7.5M668.9 302.47h7.5M78.2 284.11h-4M668.9 284.11h4M78.2 265.76h-7.5M668.9 265.76h7.5M78.2 247.40h-4M668.9 247.40h4M78.2 229.05h-7.5M668.9 229.05h7.5M78.2 210.70h-4M668.9 210.70h4M78.2 192.34h-7.5M668.9 192.34h7.5M78.2 173.99h-4M668.9 173.99h4M78.2 155.63h-7.5M668.9 155.63h7.5M78.2 137.28h-4M668.9 137.28h4M78.2 118.93h-7.5M668.9 118.93h7.5M78.2 100.57h-4M668.9 100.57h4M78.2 82.22h-7.5M668.9 82.22h7.5M78.2 63.86h-4M668.9 63.86h4M78.2 45.51h-7.5M668.9 45.51h7.5M78.2 27.15h-4M668.9 27.15h4M78.2 8.80h-7.5M668.9 8.80h7.5" fill="none" stroke="#000" stroke-width="2" stroke-linecap="butt"/>
<g font-family="'Liberation Sans', Arial, sans-serif" font-size="22.0" fill="#000" stroke="#000" stroke-width="0.4">
<g transform="translate(78.55,479.90) scale(1,1.012)"><text text-anchor="middle">0.0</text></g>
<g transform="translate(137.62,479.90) scale(1,1.012)"><text text-anchor="middle">0.2</text></g>
<g transform="translate(196.69,479.90) scale(1,1.012)"><text text-anchor="middle">0.4</text></g>
<g transform="translate(255.76,479.90) scale(1,1.012)"><text text-anchor="middle">0.6</text></g>
<g transform="translate(314.83,479.90) scale(1,1.012)"><text text-anchor="middle">0.8</text></g>
<g transform="translate(373.90,479.90) scale(1,1.012)"><text text-anchor="middle">1.0</text><path d="M-14.69 -2.05H-9.93V1.9H-14.69ZM-7.64 -2.05H-3.19V1.9H-7.64Z" fill="#fff" stroke="none"/></g>
<g transform="translate(432.97,479.90) scale(1,1.012)"><text text-anchor="middle">1.2</text><path d="M-14.69 -2.05H-9.93V1.9H-14.69ZM-7.64 -2.05H-3.19V1.9H-7.64Z" fill="#fff" stroke="none"/></g>
<g transform="translate(492.04,479.90) scale(1,1.012)"><text text-anchor="middle">1.4</text><path d="M-14.69 -2.05H-9.93V1.9H-14.69ZM-7.64 -2.05H-3.19V1.9H-7.64Z" fill="#fff" stroke="none"/></g>
<g transform="translate(551.11,479.90) scale(1,1.012)"><text text-anchor="middle">1.6</text><path d="M-14.69 -2.05H-9.93V1.9H-14.69ZM-7.64 -2.05H-3.19V1.9H-7.64Z" fill="#fff" stroke="none"/></g>
<g transform="translate(610.18,479.90) scale(1,1.012)"><text text-anchor="middle">1.8</text><path d="M-14.69 -2.05H-9.93V1.9H-14.69ZM-7.64 -2.05H-3.19V1.9H-7.64Z" fill="#fff" stroke="none"/></g>
<g transform="translate(669.25,479.90) scale(1,1.012)"><text text-anchor="middle">2.0</text></g>
<g transform="translate(65.90,456.60) scale(1,1.06)"><text text-anchor="end">0.0</text></g>
<g transform="translate(65.90,419.89) scale(1,1.06)"><text text-anchor="end">0.1</text><path d="M-11.64 -2.05H-6.88V1.9H-11.64ZM-4.59 -2.05H-0.14V1.9H-4.59Z" fill="#fff" stroke="none"/></g>
<g transform="translate(65.90,383.18) scale(1,1.06)"><text text-anchor="end">0.2</text></g>
<g transform="translate(65.90,346.48) scale(1,1.06)"><text text-anchor="end">0.3</text></g>
<g transform="translate(65.90,309.77) scale(1,1.06)"><text text-anchor="end">0.4</text></g>
<g transform="translate(65.90,273.06) scale(1,1.06)"><text text-anchor="end">0.5</text></g>
<g transform="translate(65.90,236.35) scale(1,1.06)"><text text-anchor="end">0.6</text></g>
<g transform="translate(65.90,199.64) scale(1,1.06)"><text text-anchor="end">0.7</text></g>
<g transform="translate(65.90,162.93) scale(1,1.06)"><text text-anchor="end">0.8</text></g>
<g transform="translate(65.90,126.23) scale(1,1.06)"><text text-anchor="end">0.9</text></g>
<g transform="translate(65.90,89.52) scale(1,1.06)"><text text-anchor="end">1.0</text><path d="M-29.98 -2.05H-25.22V1.9H-29.98ZM-22.93 -2.05H-18.48V1.9H-22.93Z" fill="#fff" stroke="none"/></g>
<g transform="translate(65.90,52.81) scale(1,1.06)"><text text-anchor="end">1.1</text><path d="M-29.98 -2.05H-25.22V1.9H-29.98ZM-22.93 -2.05H-18.48V1.9H-22.93Z" fill="#fff" stroke="none"/><path d="M-11.64 -2.05H-6.88V1.9H-11.64ZM-4.59 -2.05H-0.14V1.9H-4.59Z" fill="#fff" stroke="none"/></g>
<g transform="translate(65.90,16.10) scale(1,1.06)"><text text-anchor="end">1.2</text><path d="M-29.98 -2.05H-25.22V1.9H-29.98ZM-22.93 -2.05H-18.48V1.9H-22.93Z" fill="#fff" stroke="none"/></g>
</g>
<g font-family="'Liberation Sans', Arial, sans-serif" font-size="26" fill="#000" stroke="#000" stroke-width="0.45">
<text x="373.5" y="506.5" text-anchor="middle"><tspan font-style="italic">u / L</tspan><tspan font-style="italic" font-size="17" dy="7.2">j</tspan><tspan dy="-7.2"> [%]</tspan></text>
<text transform="translate(18.2,228.5) rotate(-90)" text-anchor="middle"><tspan font-style="italic">P / F</tspan><tspan font-style="italic" font-size="17" dy="7.4">ds</tspan></text>
</g>
<clipPath id="c1"><path d="M674 60H686V86H682.6V80.6H674Z"/></clipPath><text x="678" y="83" clip-path="url(#c1)" font-family="'Liberation Sans', Arial, sans-serif" font-size="20" font-weight="bold">1</text>
<rect x="483.8" y="366.9" width="175.2" height="74.8" fill="#fff" stroke="#1a1a1a" stroke-width="1.5"/>
<path d="M487.4 386.3H552.8" stroke="#E87818" stroke-width="1.2"/><rect x="518.6" y="385.0" width="2.6" height="2.6" fill="#fff" stroke="#E87818" stroke-width="1"/>
<path d="M487.4 422.2H552.8" stroke="#0a0a0a" stroke-width="1.4"/><rect x="518.6" y="420.9" width="2.6" height="2.6" fill="#fff" stroke="#111" stroke-width="1"/>
<g font-family="'Liberation Sans', Arial, sans-serif" font-size="28.8" fill="#000" stroke="#000" stroke-width="0.4"><text x="560.7" y="396.3">Hybrid</text><text x="560.7" y="431.8">Friction</text></g>
</svg>
</body></html>
